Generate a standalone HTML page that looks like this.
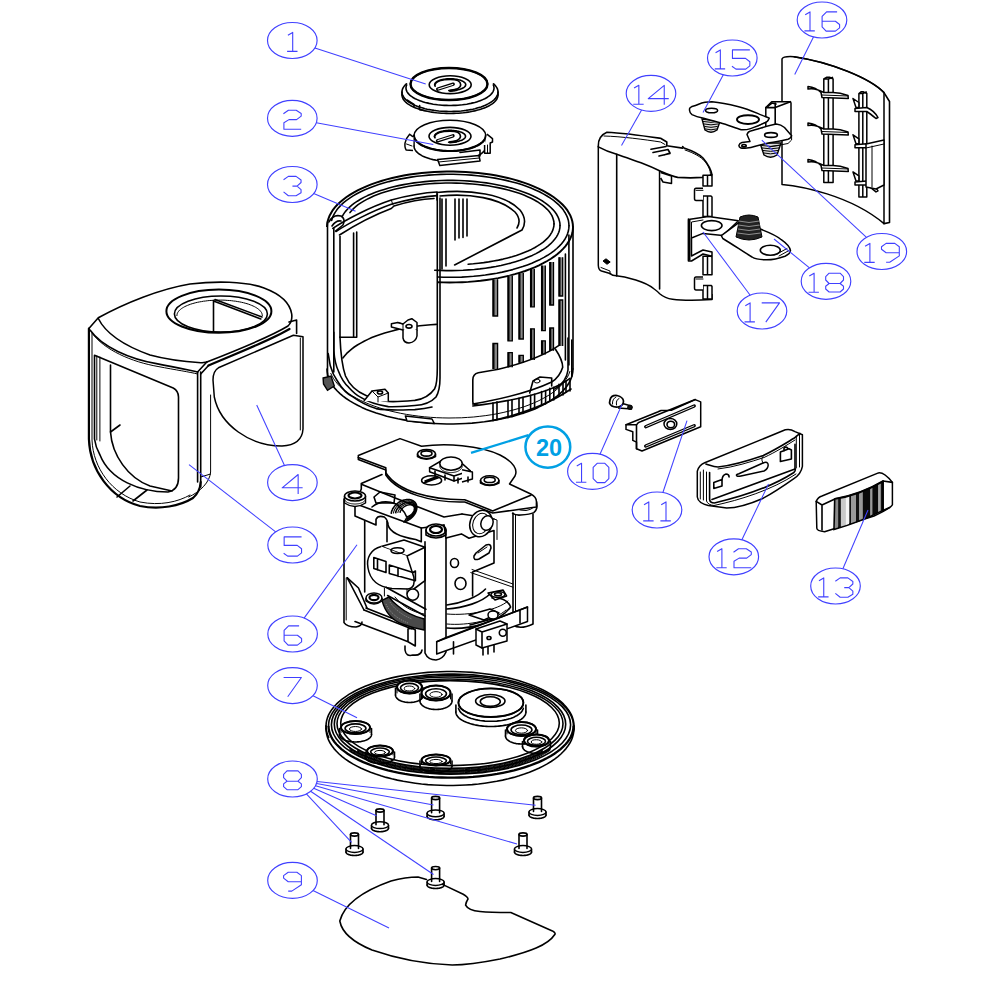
<!DOCTYPE html>
<html><head><meta charset="utf-8"><style>
html,body{margin:0;padding:0;background:#fff;}
svg{display:block}
.b{fill:none;stroke:#4040ff;stroke-width:1.15}
.bt{fill:none;stroke:#4040ff;stroke-width:1.1;stroke-linejoin:round}
.bl{fill:none;stroke:#4040ff;stroke-width:1.05}
.k{fill:none;stroke:#000;stroke-width:1.6;stroke-linejoin:round;stroke-linecap:round}
.kt{fill:none;stroke:#000;stroke-width:1.0;stroke-linejoin:round;stroke-linecap:round}
.kb{fill:none;stroke:#000;stroke-width:2.2;stroke-linejoin:round;stroke-linecap:round}
.w{fill:#fff;stroke:#000;stroke-width:1.5;stroke-linejoin:round}
</style></head><body>
<svg width="982" height="982" viewBox="0 0 982 982">
<g id="parts"><path d="M327.0,227.0 L327.2,224.1 L327.7,221.3 L328.5,218.5 L329.6,215.6 L331.1,212.9 L332.8,210.1 L334.9,207.4 L337.3,204.8 L340.0,202.2 L343.0,199.7 L346.2,197.2 L349.8,194.8 L353.6,192.6 L357.6,190.4 L361.9,188.3 L366.4,186.3 L371.2,184.4 L376.2,182.6 L381.3,181.0 L386.7,179.4 L392.2,178.0 L397.9,176.7 L403.7,175.6 L409.6,174.6 L415.6,173.7 L421.7,173.0 L427.9,172.4 L434.2,172.0 L440.5,171.7 L446.8,171.5 L453.2,171.5 L459.5,171.7 L465.8,172.0 L472.1,172.4 L478.3,173.0 L484.4,173.7 L490.4,174.6 L496.3,175.6 L502.1,176.7 L507.8,178.0 L513.3,179.4 L518.7,181.0 L523.8,182.6 L528.8,184.4 L533.6,186.3 L538.1,188.3 L542.4,190.4 L546.4,192.6 L550.2,194.8 L553.8,197.2 L557.0,199.7 L560.0,202.2 L562.7,204.8 L565.1,207.4 L567.2,210.1 L568.9,212.9 L570.4,215.6 L571.5,218.5 L572.3,221.3 L572.8,224.1 L573.0,227.0" fill="none" stroke="#000" stroke-width="2"/>
<path d="M331.7,220.4 L332.4,217.8 L333.6,215.2 L335.0,212.6 L336.7,210.1 L338.7,207.6 L341.0,205.1 L343.6,202.7 L346.5,200.4 L349.7,198.1 L353.1,195.9 L356.8,193.8 L360.7,191.7 L364.9,189.8 L369.3,188.0 L373.9,186.2 L378.7,184.6 L383.7,183.0 L388.9,181.6 L394.2,180.3 L399.7,179.1 L405.3,178.1 L411.0,177.1 L416.9,176.3 L422.8,175.7 L428.8,175.1 L434.8,174.7 L440.9,174.4 L447.0,174.3 L453.2,174.3 L459.3,174.5 L465.4,174.7 L471.4,175.1 L477.4,175.7 L483.3,176.4 L489.2,177.2 L494.9,178.1 L500.5,179.2 L506.0,180.4 L511.3,181.7 L516.5,183.1 L521.5,184.6 L526.3,186.3 L530.9,188.0 L535.3,189.9 L539.4,191.8 L543.3,193.9 L547.0,196.0 L550.4,198.2 L553.6,200.4 L556.5,202.8 L559.1,205.2 L561.4,207.6 L563.4,210.1 L565.1,212.7 L566.5,215.3 L567.6,217.9 L568.4,220.5 L568.8,223.2 L569.0,225.8" class="k"/>
<path d="M342.4,216.1 L343.7,213.9 L345.3,211.6 L347.2,209.5 L349.3,207.3 L351.8,205.2 L354.4,203.2 L357.4,201.2 L360.5,199.3 L363.9,197.4 L367.6,195.6 L371.4,193.9 L375.5,192.3 L379.8,190.8 L384.2,189.4 L388.8,188.0 L393.6,186.8 L398.5,185.6 L403.6,184.6 L408.8,183.7 L414.1,182.9 L419.5,182.2 L425.0,181.6 L430.5,181.1 L436.1,180.8 L441.7,180.5 L447.4,180.4 L453.0,180.4 L458.7,180.5 L464.3,180.8 L469.9,181.1 L475.4,181.6 L480.9,182.2 L486.3,182.9 L491.6,183.7 L496.8,184.7 L501.8,185.7 L506.7,186.9 L511.5,188.1 L516.1,189.5 L520.6,190.9 L524.8,192.4 L528.8,194.1 L532.7,195.8 L536.3,197.5 L539.7,199.4 L542.9,201.3 L545.8,203.3 L548.4,205.4 L550.8,207.5 L552.9,209.6 L554.8,211.8 L556.4,214.0 L557.7,216.3 L558.7,218.6 L559.4,220.9 L559.9,223.2 L560.0,225.5" class="k"/>
<path d="M350.0,212.6 L351.7,210.6 L353.5,208.6 L355.7,206.7 L358.1,204.7 L360.8,202.9 L363.7,201.1 L366.8,199.4 L370.2,197.7 L373.7,196.1 L377.5,194.6 L381.5,193.1 L385.7,191.8 L390.0,190.5 L394.5,189.3 L399.1,188.2 L403.9,187.2 L408.8,186.3 L413.9,185.5 L419.0,184.9 L424.2,184.3 L429.5,183.8 L434.8,183.4 L440.2,183.2 L445.6,183.0 L451.0,183.0 L456.4,183.1 L461.8,183.3 L467.1,183.6 L472.5,184.0 L477.7,184.5 L482.9,185.1 L488.0,185.8 L493.0,186.7 L497.8,187.6 L502.6,188.6 L507.2,189.7 L511.6,190.9 L515.9,192.3 L520.0,193.6 L523.9,195.1 L527.6,196.7 L531.1,198.3 L534.4,200.0 L537.4,201.7 L540.2,203.6 L542.8,205.4 L545.1,207.4 L547.2,209.3 L549.0,211.3 L550.5,213.4 L551.8,215.4 L552.7,217.5 L553.4,219.7 L553.9,221.8 L554.0,223.9" class="k"/>
<path d="M573.0,227.0 L572.8,229.8 L572.4,232.6 L571.6,235.4 L570.5,238.2 L569.1,240.9 L567.3,243.6 L565.3,246.3 L563.0,248.9 L560.4,251.5 L557.5,254.0 L554.3,256.4 L550.9,258.8 L547.2,261.0 L543.2,263.2 L539.0,265.3 L534.6,267.3 L530.0,269.2 L525.1,271.0 L520.1,272.6 L514.8,274.2 L509.5,275.6 L503.9,276.9 L498.2,278.1 L492.4,279.1 L486.5,280.0 L480.5,280.8 L474.4,281.4 L468.3,281.9 L462.1,282.2 L455.9,282.4 L449.6,282.5 L443.4,282.4 L437.1,282.2" fill="none" stroke="#000" stroke-width="1.9"/>
<path d="M569.0,225.8 L568.8,228.4 L568.4,231.0 L567.6,233.6 L566.6,236.2 L565.2,238.7 L563.5,241.2 L561.6,243.7 L559.3,246.1 L556.8,248.5 L554.0,250.8 L550.9,253.1 L547.6,255.3 L544.0,257.4 L540.2,259.4 L536.1,261.3 L531.8,263.2 L527.4,264.9 L522.7,266.6 L517.8,268.1 L512.7,269.6 L507.5,270.9 L502.2,272.1 L496.7,273.2 L491.1,274.1 L485.3,275.0 L479.5,275.7 L473.6,276.3 L467.7,276.7 L461.7,277.1 L455.7,277.2 L449.6,277.3 L443.6,277.2 L437.6,277.0" class="k"/>
<path d="M560.0,225.5 L559.9,227.8 L559.4,230.2 L558.7,232.5 L557.6,234.8 L556.3,237.1 L554.7,239.3 L552.8,241.5 L550.7,243.7 L548.2,245.8 L545.6,247.8 L542.6,249.8 L539.4,251.8 L536.0,253.6 L532.3,255.4 L528.4,257.1 L524.3,258.8 L520.0,260.3 L515.5,261.7 L510.8,263.1 L506.0,264.3 L501.0,265.5 L495.9,266.5 L490.7,267.4 L485.3,268.2 L479.9,268.9 L474.3,269.5 L468.8,269.9 L463.1,270.3 L457.4,270.5 L451.7,270.6 L446.0,270.6 L440.4,270.4 L434.7,270.2" class="k"/>
<path d="M554.0,223.9 L553.9,226.0 L553.4,228.1 L552.8,230.2 L551.8,232.3 L550.5,234.4 L549.0,236.4 L547.3,238.4 L545.2,240.3 L542.9,242.3 L540.4,244.1 L537.6,245.9 L534.6,247.7 L531.4,249.4 L527.9,251.0 L524.2,252.5 L520.4,254.0 L516.3,255.4 L512.1,256.7 L507.7,257.9 L503.2,259.1 L498.5,260.1 L493.6,261.0 L488.7,261.9 L483.7,262.6 L478.5,263.2 L473.3,263.8 L468.1,264.2" class="k"/>
<path d="M437,192.5 C470,189 505,194 520,210 Q528,220 522,230 L454.6,265" class="k"/>
<path d="M440,196 C470,193 500,198 515,212 Q522,220 517,228" class="k"/>
<path d="M442,199V269M446,199V266M455,199V240M459,199V238M463,199V237.5M467,199V236" class="k"/>
<path d="M437,192.5V200" class="k"/>
<path d="M332.8,228.4C345,220 370,207 391.3,200C410,195 425,192.5 437,192" class="k"/>
<path d="M336,231.5C348,223.5 372,211 392,204C410,199 424,196.5 437,195.6" class="k"/>
<path d="M339.5,235C352,227 374,215 391.3,208.5L394,206C410,201 422,199 434,198.5" class="k"/>
<path d="M391.3,200L393,205" class="kt"/>
<path d="M329,222Q333,214 341,216Q346,219 343,225L335.5,231" class="k"/>
<path d="M332,226Q336,220 341,221" class="k"/>
<path d="M327.5,222V376M333.8,228V372" class="k"/>
<path d="M340,236V337.2" fill="none" stroke="#333" stroke-width="2"/>
<path d="M340,337.2H356.7V232M353.6,233V337" class="k"/>
<path d="M342.9,358.0 L344.7,355.7 L346.7,353.4 L349.0,351.3 L351.6,349.1 L354.3,347.0 L357.4,345.0 L360.7,343.1 L364.1,341.2 L367.9,339.4 L371.8,337.6 L375.9,336.0 L380.2,334.5 L384.7,333.0 L389.3,331.7 L394.1,330.4 L399.0,329.3 L404.1,328.2 L409.2,327.3 L414.5,326.5 L419.9,325.8 L425.3,325.2 L430.8,324.7 L436.4,324.4" class="k"/>
<path d="M340,337.3C340.5,350 342,366 345.5,376C349,384 355,391 366,395.4C375,399 382,401 388.3,401.5C398,402 408,401 414.8,400.4C424,399 431,394 434.7,388.7C437,384 437.3,376 437.3,368V194" class="k"/>
<path d="M333.8,332.2V350.5C334.5,360 336,366 338.4,371C341,378 344,383 348.6,387.2C352,391 356,395 360.8,397.4C368,402 378,405 388.3,406.6C398,407 408,406 414.8,405.5C424,405 432,401.4 436,397C439,392 440,385 440,378V198" class="k"/>
<path d="M328.2,353.6C329,358 329.5,362 330.3,365.8C332,372 334.5,377 337.4,381C342,389 347,394 353.7,397.4C360,402 368,406 376.1,408.6C390,411 402,410 414.8,409.6C422,409 428,408 432,407" class="k"/>
<path d="M573.0,369.0 L572.8,371.8 L572.3,374.7 L571.5,377.5 L570.4,380.3 L568.9,383.0 L567.2,385.7 L565.1,388.4 L562.7,391.0 L560.0,393.6 L557.0,396.1 L553.8,398.5 L550.2,400.9 L546.4,403.1 L542.4,405.3 L538.1,407.4 L533.6,409.4 L528.8,411.2 L523.8,413.0 L518.7,414.6 L513.3,416.2 L507.8,417.5 L502.1,418.8 L496.3,419.9 L490.4,420.9 L484.4,421.8 L478.3,422.5 L472.1,423.1 L465.8,423.5 L459.5,423.8 L453.2,424.0 L446.8,424.0 L440.5,423.8 L434.2,423.5 L427.9,423.1 L421.7,422.5 L415.6,421.8 L409.6,420.9 L403.7,419.9 L397.9,418.8 L392.2,417.5 L386.7,416.2 L381.3,414.6 L376.2,413.0 L371.2,411.2 L366.4,409.4 L361.9,407.4 L357.6,405.3 L353.6,403.1 L349.8,400.9 L346.2,398.5 L343.0,396.1 L340.0,393.6 L337.3,391.0 L334.9,388.4 L332.8,385.7 L331.1,383.0 L329.6,380.3 L328.5,377.5 L327.7,374.7 L327.2,371.8 L327.0,369.0" class="k"/>
<path d="M569.8,371.5 L568.8,374.3 L567.5,377.0 L565.8,379.6 L563.9,382.3 L561.6,384.9 L559.1,387.4 L556.2,389.9 L553.1,392.3 L549.7,394.6 L546.1,396.8 L542.1,399.0 L538.0,401.1 L533.6,403.0 L529.0,404.9 L524.2,406.7 L519.2,408.3 L514.0,409.8 L508.6,411.2 L503.1,412.5 L497.5,413.7 L491.7,414.7 L485.8,415.6 L479.8,416.3 L473.7,417.0 L467.6,417.4 L461.4,417.8 L455.2,417.9 L449.0,418.0 L442.8,417.9 L436.6,417.7 L430.4,417.3 L424.3,416.8 L418.3,416.1 L412.3,415.3 L406.5,414.4 L400.7,413.3 L395.1,412.1 L389.6,410.8 L384.3,409.4 L379.2,407.8 L374.2,406.1 L369.5,404.3 L365.0,402.4 L360.6,400.4 L356.6,398.3 L352.7,396.1 L349.2,393.9 L345.9,391.5 L342.8,389.1 L340.1,386.6 L337.6,384.0 L335.5,381.4 L333.6,378.8 L332.1,376.1 L330.8,373.4" class="kt"/>
<path d="M573,227V369M568.9,235V365" class="k"/>
<path d="M391.4,323.8L397.8,322.5L403,324L408,320L411.8,318.7L417,322.5V330L409,333L403,330L391.4,327Z" class="w"/>
<path d="M403,330V338Q404,343 409,343Q416,342 417,336V330" class="w"/>
<path d="M397.8,322.5L403,324V330" class="kt"/>
<ellipse cx="409" cy="326.3" rx="3" ry="1.8" class="k"/>
<path d="M363.9,401L372,391L385,389.2L388.3,393V401.5" class="w"/>
<path d="M372,391L378,397L388.3,393M378,397V402" class="kt"/>
<ellipse cx="380" cy="392.5" rx="2.6" ry="1.5" class="k"/>
<path d="M405.4,416L432,419L434.4,423.6L407,421Z" class="w"/>
<path d="M323.1,378L331,376L334.3,386L327.5,390.3L323.5,384Z" fill="#555" stroke="#000" stroke-width="1.4"/>
<path d="M493,279.3V316H497.6V279.3" fill="#888" stroke="#000" stroke-width="1.3"/>
<path d="M493.6,279.3V316" stroke="#000" stroke-width="1.8"/>
<path d="M508,275.7V340.8H512.3V275.7" fill="#888" stroke="#000" stroke-width="1.3"/>
<path d="M508.6,275.7V340.8" stroke="#000" stroke-width="1.8"/>
<path d="M519,273V339H523.3V273" fill="#888" stroke="#000" stroke-width="1.3"/>
<path d="M519.6,273V339" stroke="#000" stroke-width="1.8"/>
<path d="M530.6,269V306.8H534.3V269" fill="#888" stroke="#000" stroke-width="1.3"/>
<path d="M531.2,269V306.8" stroke="#000" stroke-width="1.8"/>
<path d="M541.6,265.6V330.7H545.3V265.6" fill="#888" stroke="#000" stroke-width="1.3"/>
<path d="M542.2,265.6V330.7" stroke="#000" stroke-width="1.8"/>
<path d="M549.8,262V305H553.5V262" fill="#888" stroke="#000" stroke-width="1.3"/>
<path d="M550.4,262V305" stroke="#000" stroke-width="1.8"/>
<path d="M559,257.3V296H562.7V257.3" fill="#888" stroke="#000" stroke-width="1.3"/>
<path d="M559.6,257.3V296" stroke="#000" stroke-width="1.8"/>
<path d="M493,369V343.5H497.6V369" fill="#888" stroke="#000" stroke-width="1.3"/>
<path d="M493.6,343.5V369" stroke="#000" stroke-width="1.8"/>
<path d="M508,367.3V352.7H512.3V367.3" fill="#888" stroke="#000" stroke-width="1.3"/>
<path d="M508.6,352.7V367.3" stroke="#000" stroke-width="1.8"/>
<path d="M519,362.8V355.4H523.3V362.8" fill="#888" stroke="#000" stroke-width="1.3"/>
<path d="M519.6,355.4V362.8" stroke="#000" stroke-width="1.8"/>
<path d="M530.6,360V328.8H534.3V360" fill="#888" stroke="#000" stroke-width="1.3"/>
<path d="M531.2,328.8V360" stroke="#000" stroke-width="1.8"/>
<path d="M541.6,354.5V340.8H545.3V354.5" fill="#888" stroke="#000" stroke-width="1.3"/>
<path d="M542.2,340.8V354.5" stroke="#000" stroke-width="1.8"/>
<path d="M549.8,350.8V328H553.5V350.8" fill="#888" stroke="#000" stroke-width="1.3"/>
<path d="M550.4,328V350.8" stroke="#000" stroke-width="1.8"/>
<path d="M559,346V300H562.7V346" fill="#888" stroke="#000" stroke-width="1.3"/>
<path d="M559.6,300V346" stroke="#000" stroke-width="1.8"/>
<path d="M565.4,254V320M565.4,314V360" class="k"/>
<path d="M559,345.3C545,355 520,364 498.5,369.2L478.3,372.8Q472.8,374 472.8,380V402Q473,405 478,405" class="k"/>
<path d="M555.3,349C560,356 562.7,362 562.7,367.3C560,376 555,380 551.7,382C535,390 515,396.7 472.8,404" class="k"/>
<path d="M568,338V370C567,378 563,384 555,389" class="k"/>
<path d="M571.8,340V376.5" class="k"/>
<path d="M472.8,406C520,400 555,390 570,378.3" class="k"/>
<path d="M493,420.5C530,412 555,400 571,389" class="k"/>
<path d="M493,402.9V420.5M497,401.9V419.5" class="k"/>
<path d="M508,400.7V417.8M512,399.7V416.8" class="k"/>
<path d="M519,398.4V414.4M523,397.4V413.4" class="k"/>
<path d="M530.6,395.2V410.0M534.6,394.2V409.0" class="k"/>
<path d="M541.6,391.5V405.0M545.6,390.5V404.0" class="k"/>
<path d="M549.8,388.4V400.9M553.8,387.4V399.9" class="k"/>
<path d="M559,384.4V396.0M563,383.4V395.0" class="k"/>
<path d="M566,381.1V392.0M570,380.1V391.0" class="k"/>
<path d="M529.7,393L533,381L540,377L551.7,378V386" class="k"/>
<ellipse cx="537" cy="381" rx="3" ry="2" class="kt"/>
<path d="M498.0,95.0 L497.9,96.0 L497.7,96.9 L497.4,97.8 L497.0,98.8 L496.4,99.7 L495.7,100.6 L494.9,101.5 L494.0,102.4 L492.9,103.3 L491.8,104.1 L490.5,104.9 L489.1,105.7 L487.6,106.5 L486.1,107.2 L484.4,107.9 L482.6,108.6 L480.7,109.2 L478.8,109.8 L476.8,110.3 L474.7,110.9 L472.6,111.3 L470.3,111.8 L468.1,112.1 L465.8,112.5 L463.4,112.8 L461.0,113.0 L458.6,113.2 L456.2,113.3 L453.7,113.4 L451.2,113.5 L448.8,113.5 L446.3,113.4 L443.8,113.3 L441.4,113.2 L439.0,113.0 L436.6,112.8 L434.2,112.5 L431.9,112.1 L429.7,111.8 L427.4,111.3 L425.3,110.9 L423.2,110.3 L421.2,109.8 L419.3,109.2 L417.4,108.6 L415.6,107.9 L413.9,107.2 L412.4,106.5 L410.9,105.7 L409.5,104.9 L408.2,104.1 L407.1,103.3 L406.0,102.4 L405.1,101.5 L404.3,100.6 L403.6,99.7 L403.0,98.8 L402.6,97.8 L402.3,96.9 L402.1,96.0 L402.0,95.0" class="k"/>
<path d="M493.5,83.8 L494.5,84.7 L495.4,85.6 L496.1,86.6 L496.8,87.6 L497.3,88.6 L497.6,89.6 L497.9,90.6 L498.0,91.6 L498.0,92.6 L497.8,93.7 L497.5,94.7 L497.1,95.7 L496.6,96.7 L495.9,97.6 L495.2,98.6 L494.3,99.6 L493.2,100.5 L492.1,101.4 L490.8,102.3 L489.4,103.1 L488.0,103.9 L486.4,104.7 L484.7,105.5 L482.9,106.2 L481.1,106.9 L479.1,107.5 L477.1,108.1 L475.0,108.7 L472.8,109.2 L470.6,109.6 L468.3,110.0 L466.0,110.4 L463.6,110.7 L461.2,111.0 L458.7,111.2 L456.2,111.3 L453.7,111.4 L451.3,111.5 L448.7,111.5 L446.3,111.4 L443.8,111.3 L441.3,111.2 L438.8,111.0 L436.4,110.7 L434.0,110.4 L431.7,110.0 L429.4,109.6 L427.2,109.2 L425.0,108.7 L422.9,108.1 L420.9,107.5 L418.9,106.9 L417.1,106.2 L415.3,105.5 L413.6,104.7 L412.0,103.9 L410.6,103.1 L409.2,102.3 L407.9,101.4 L406.8,100.5 L405.7,99.6 L404.8,98.6 L404.1,97.6 L403.4,96.7 L402.9,95.7 L402.5,94.7 L402.2,93.7 L402.0,92.6 L402.0,91.6 L402.1,90.6 L402.4,89.6 L402.7,88.6 L403.2,87.6 L403.9,86.6 L404.6,85.6 L405.5,84.7 L406.5,83.8" class="k"/>
<path d="M402,92V95M498,92V95" class="k"/>
<path d="M493.3,85.0 L493.7,85.9 L493.9,86.8 L494.0,87.7 L494.0,88.6 L493.8,89.5 L493.6,90.4 L493.2,91.3 L492.7,92.2 L492.1,93.1 L491.4,93.9 L490.6,94.8 L489.6,95.6 L488.6,96.4 L487.4,97.2 L486.1,98.0 L484.8,98.7 L483.3,99.4 L481.8,100.1 L480.2,100.7 L478.5,101.3 L476.7,101.9 L474.8,102.5 L472.9,102.9 L470.9,103.4 L468.9,103.8 L466.8,104.2 L464.6,104.5 L462.4,104.8 L460.2,105.0 L458.0,105.2 L455.7,105.4 L453.4,105.4 L451.1,105.5 L448.9,105.5 L446.6,105.4 L444.3,105.4 L442.0,105.2 L439.8,105.0 L437.6,104.8 L435.4,104.5 L433.2,104.2 L431.1,103.8 L429.1,103.4 L427.1,102.9 L425.2,102.5 L423.3,101.9 L421.5,101.3 L419.8,100.7 L418.2,100.1 L416.7,99.4 L415.2,98.7 L413.9,98.0 L412.6,97.2 L411.4,96.4 L410.4,95.6 L409.4,94.8 L408.6,93.9 L407.9,93.1 L407.3,92.2 L406.8,91.3 L406.4,90.4 L406.2,89.5 L406.0,88.6 L406.0,87.7 L406.1,86.8 L406.3,85.9 L406.7,85.0" class="k"/>
<ellipse cx="449" cy="84" rx="38.5" ry="16" class="w"/>
<ellipse cx="449" cy="84" rx="38.5" ry="16" fill="none" stroke="#000" stroke-width="2.4"/>
<path d="M407,100L414,104.5V106.5M419.6,105.5V109.6L424,110.5" class="k"/>
<ellipse cx="450.2" cy="84.7" rx="21" ry="8.9" class="k"/>
<path d="M435.2,86.2 L435.0,85.9 L434.9,85.6 L434.8,85.3 L434.7,85.0 L434.7,84.7 L434.7,84.4 L434.8,84.1 L434.9,83.8 L435.0,83.5 L435.2,83.2 L435.4,82.9 L435.7,82.6 L436.0,82.3 L436.4,82.0 L436.8,81.8 L437.2,81.5 L437.6,81.2 L438.1,81.0 L438.6,80.8 L439.2,80.5 L439.8,80.3 L440.4,80.1 L441.0,79.9 L441.7,79.8 L442.4,79.6 L443.1,79.5 L443.8,79.3 L444.6,79.2 L445.3,79.1 L446.1,79.0 L446.9,78.9 L447.7,78.9 L448.5,78.8 L449.3,78.8 L450.1,78.8 L450.9,78.8 L451.7,78.8 L452.5,78.9 L453.3,78.9 L454.1,79.0 L454.9,79.1 L455.6,79.2 L456.4,79.3 L457.1,79.4 L457.8,79.6 L458.5,79.7 L459.2,79.9 L459.9,80.1 L460.5,80.3 L461.1,80.5 L461.6,80.7 L462.2,80.9 L462.7,81.2 L463.1,81.4 L463.5,81.7 L463.9,82.0 L464.3,82.2 L464.6,82.5 L464.9,82.8 L465.1,83.1 L465.3,83.4 L465.5,83.7 L465.6,84.0 L465.7,84.3 L465.7,84.6 L465.7,84.9 L465.6,85.2 L465.5,85.6 L465.4,85.9 L465.2,86.2 L465.0,86.5 L464.7,86.7 L464.4,87.0 L464.1,87.3 L463.7,87.6 L463.3,87.8 L462.9,88.1 L462.4,88.3 L461.9,88.6 L461.3,88.8 L460.7,89.0 L460.1,89.2 L459.5,89.4 L458.8,89.6 L458.2,89.8 L457.4,89.9 L456.7,90.1 L456.0,90.2 L455.2,90.3 L454.5,90.4 L453.7,90.5 L452.9,90.5 L452.1,90.6 L451.3,90.6 L450.5,90.6 L449.7,90.6 L448.8,90.6" class="k"/>
<path d="M434.7,85.0C436.2,80.2 444.2,79.5 450.2,79.5C458.2,79.5 460.7,81.7 460.7,84.7C460.7,87.7 456.2,90.2 450.2,90.7" class="k"/>
<path d="M437.7,89.2L453.2,84.2" stroke="#000" stroke-width="3.4" stroke-linecap="round"/>
<path d="M438.2,89.0L452.7,84.4" stroke="#fff" stroke-width="1.1" stroke-linecap="round"/>
<path d="M450.2,90.7L456.2,89.9" stroke="#000" stroke-width="2.6" stroke-linecap="round"/>
<path d="M486.0,146.0 L486.0,146.8 L485.8,147.6 L485.6,148.4 L485.2,149.2 L484.8,149.9 L484.3,150.7 L483.7,151.4 L483.0,152.2 L482.2,152.9 L481.3,153.6 L480.4,154.3 L479.3,154.9 L478.2,155.6 L477.0,156.2 L475.8,156.7 L474.5,157.3 L473.1,157.8 L471.6,158.3 L470.1,158.8 L468.5,159.2 L466.9,159.6 L465.3,159.9 L463.6,160.3 L461.8,160.5 L460.1,160.8 L458.3,161.0 L456.5,161.2 L454.6,161.3 L452.8,161.4 L450.9,161.4 L449.1,161.4 L447.2,161.4 L445.4,161.3 L443.5,161.2 L441.7,161.0 L439.9,160.8 L438.2,160.5 L436.4,160.3 L434.7,159.9 L433.1,159.6 L431.5,159.2 L429.9,158.8 L428.4,158.3 L426.9,157.8 L425.5,157.3 L424.2,156.7 L423.0,156.2 L421.8,155.6 L420.7,154.9 L419.6,154.3 L418.7,153.6 L417.8,152.9 L417.0,152.2 L416.3,151.4 L415.7,150.7 L415.2,149.9 L414.8,149.2 L414.4,148.4 L414.2,147.6 L414.0,146.8 L414.0,146.0" class="k"/>
<path d="M414,135.6V146M486,135.6V146" class="k"/>
<ellipse cx="449.9" cy="135.6" rx="35.9" ry="15.4" class="w"/>
<path d="M485.8,135.6 L485.8,136.4 L485.6,137.2 L485.4,138.0 L485.0,138.8 L484.6,139.5 L484.1,140.3 L483.5,141.0 L482.8,141.8 L482.0,142.5 L481.1,143.2 L480.2,143.9 L479.2,144.5 L478.0,145.2 L476.9,145.8 L475.6,146.3 L474.3,146.9 L472.9,147.4 L471.4,147.9 L469.9,148.4 L468.4,148.8 L466.8,149.2 L465.1,149.5 L463.4,149.9 L461.7,150.1 L459.9,150.4 L458.1,150.6 L456.3,150.8 L454.5,150.9 L452.7,151.0 L450.8,151.0 L449.0,151.0 L447.1,151.0 L445.3,150.9 L443.5,150.8 L441.7,150.6 L439.9,150.4 L438.1,150.1 L436.4,149.9 L434.7,149.5 L433.0,149.2 L431.4,148.8 L429.9,148.4 L428.4,147.9 L426.9,147.4 L425.5,146.9 L424.2,146.3 L422.9,145.8 L421.8,145.2 L420.6,144.5 L419.6,143.9 L418.7,143.2 L417.8,142.5 L417.0,141.8 L416.3,141.0 L415.7,140.3 L415.2,139.5 L414.8,138.8 L414.4,138.0 L414.2,137.2 L414.0,136.4 L414.0,135.6" class="kb"/>
<ellipse cx="450" cy="136.3" rx="21" ry="8.9" class="k"/>
<path d="M435.0,137.8 L434.8,137.5 L434.7,137.2 L434.6,136.9 L434.5,136.6 L434.5,136.3 L434.5,136.0 L434.6,135.7 L434.7,135.4 L434.8,135.1 L435.0,134.8 L435.2,134.5 L435.5,134.2 L435.8,133.9 L436.2,133.6 L436.6,133.4 L437.0,133.1 L437.4,132.8 L437.9,132.6 L438.4,132.4 L439.0,132.1 L439.6,131.9 L440.2,131.7 L440.8,131.5 L441.5,131.4 L442.2,131.2 L442.9,131.1 L443.6,130.9 L444.4,130.8 L445.1,130.7 L445.9,130.6 L446.7,130.5 L447.5,130.5 L448.3,130.4 L449.1,130.4 L449.9,130.4 L450.7,130.4 L451.5,130.4 L452.3,130.5 L453.1,130.5 L453.9,130.6 L454.7,130.7 L455.4,130.8 L456.2,130.9 L456.9,131.0 L457.6,131.2 L458.3,131.3 L459.0,131.5 L459.7,131.7 L460.3,131.9 L460.9,132.1 L461.4,132.3 L462.0,132.5 L462.5,132.8 L462.9,133.0 L463.3,133.3 L463.7,133.6 L464.1,133.8 L464.4,134.1 L464.7,134.4 L464.9,134.7 L465.1,135.0 L465.3,135.3 L465.4,135.6 L465.5,135.9 L465.5,136.2 L465.5,136.5 L465.4,136.8 L465.3,137.2 L465.2,137.5 L465.0,137.8 L464.8,138.1 L464.5,138.3 L464.2,138.6 L463.9,138.9 L463.5,139.2 L463.1,139.4 L462.7,139.7 L462.2,139.9 L461.7,140.2 L461.1,140.4 L460.5,140.6 L459.9,140.8 L459.3,141.0 L458.6,141.2 L458.0,141.4 L457.2,141.5 L456.5,141.7 L455.8,141.8 L455.0,141.9 L454.3,142.0 L453.5,142.1 L452.7,142.1 L451.9,142.2 L451.1,142.2 L450.3,142.2 L449.5,142.2 L448.6,142.2" class="k"/>
<path d="M434.5,136.60000000000002C436,131.8 444,131.10000000000002 450,131.10000000000002C458,131.10000000000002 460.5,133.3 460.5,136.3C460.5,139.3 456,141.8 450,142.3" class="k"/>
<path d="M437.5,140.8L453,135.8" stroke="#000" stroke-width="3.4" stroke-linecap="round"/>
<path d="M438,140.60000000000002L452.5,136.0" stroke="#fff" stroke-width="1.1" stroke-linecap="round"/>
<path d="M450,142.3L456,141.5" stroke="#000" stroke-width="2.6" stroke-linecap="round"/>
<path d="M413.5,137Q409.5,134 409.6,134.2Q406,138 405,143.2Q404.5,148 406.2,149.9L413,150.4" class="w"/>
<path d="M406.5,144L412,146" class="kt"/>
<path d="M486.9,134.2L492.5,138.7V142L490.2,143V153.2H484.6V145" class="w"/>
<path d="M487.5,145V153" class="kt"/>
<path d="M437.6,159.4L479,155.6L480.1,161L439.8,165.6Z" class="w"/>
<path d="M438.5,162L479.5,158" class="kt"/>
<path d="M460,152.5L480,150V156" class="k"/>
<path d="M88.9,328.5L98.3,317.8C125,303 160,289 190,284C215,281 245,281 264,288C280,294 290,303 291.7,314C292.5,320 291,323 288,326C270,337 240,349 206.8,362" class="k"/>
<path d="M289.5,329C271,340 240,352 208.5,365.5" class="kb"/>
<path d="M289,322L296.6,320V333.5" class="k"/>
<path d="M98.3,318.5C106,334 125,346 150,355C172,361 190,362 202.2,362.8L206.8,362" class="k"/>
<path d="M90,330C102,347 130,359 156.4,363.6C175,367 188,370 197.6,372" class="k"/>
<path d="M92,333C104,350 132,362 158,366.5C176,370 190,372 197.6,374" class="kt"/>
<path d="M197.6,372L206.8,362M200.7,374L208.5,365.5" class="k"/>
<path d="M197.6,372V482M200.7,372V487" class="k"/>
<path d="M88.9,328.5V439C90,470 110,498 140,506C160,510 180,506 193,498Q200,492 200.7,482" class="kb"/>
<path d="M92,333V440C93,468 112,494 140,502C160,506 178,502 190,495" class="kt"/>
<path d="M94.5,355.2L173.2,388Q178.5,391 178.5,397V478Q178.5,490 168,492C140,492 110,480 100,455Q95.5,447 94.5,439Z" class="k"/>
<path d="M96.8,356V440M99.9,357V441" class="kt"/>
<path d="M110.5,365V432C112,455 128,478 150,486L172,491" class="k"/>
<path d="M110.5,432L120,425" class="k"/>
<path d="M117,497L130,486M133,501L147,490" class="k"/>
<ellipse cx="218.9" cy="311.2" rx="52.5" ry="21.6" fill="none" stroke="#000" stroke-width="2"/>
<ellipse cx="220.9" cy="314" rx="46.5" ry="18" class="k"/>
<path d="M176.9,315.6 L177.0,314.8 L177.1,314.0 L177.4,313.2 L177.8,312.4 L178.3,311.7 L178.9,310.9 L179.6,310.1 L180.5,309.4 L181.4,308.7 L182.4,308.0 L183.6,307.3 L184.8,306.6 L186.1,306.0 L187.5,305.4 L189.0,304.8 L190.6,304.2 L192.2,303.7 L194.0,303.2 L195.8,302.7 L197.6,302.3 L199.5,301.9 L201.5,301.6 L203.5,301.2 L205.6,301.0 L207.7,300.7 L209.8,300.5 L211.9,300.4 L214.1,300.2 L216.3,300.1 L218.5,300.1 L220.7,300.1 L222.9,300.1 L225.1,300.2 L227.3,300.4 L229.4,300.5 L231.5,300.7 L233.6,301.0 L235.7,301.2 L237.7,301.6 L239.7,301.9 L241.6,302.3 L243.4,302.7 L245.2,303.2 L247.0,303.7 L248.6,304.2 L250.2,304.8 L251.7,305.4 L253.1,306.0 L254.4,306.6 L255.6,307.3 L256.8,308.0 L257.8,308.7 L258.7,309.4 L259.6,310.1 L260.3,310.9 L260.9,311.7 L261.4,312.4 L261.8,313.2 L262.1,314.0 L262.2,314.8 L262.3,315.6" class="kt"/>
<path d="M213.5,300.5V332M213.5,301L260.8,318.9M215,299.5L262,317" class="k"/>
<path d="M210.6,395V472C210,482 200,492 188.6,497" class="kt"/>
<path d="M200.7,477L210.6,474" class="kt"/>
<path d="M213,380Q213,371 218.4,367.8L293.4,335.2L303,336.8V429Q302,445 282,446C250,446 220,425 214.3,397Z" class="w"/>
<path d="M300.3,338V430" class="kt"/>
<path d="M344,499V622.6Q347,627 356,627Q362,626 362,622" class="k"/>
<path d="M346.2,578V620" class="kt"/>
<path d="M364.7,521V592" class="k"/>
<path d="M387,521.5V541.7" class="k"/>
<path d="M425,541.7V653Q428,660 436,660Q443,659 446,652V538" class="k"/>
<path d="M513,513V625Q520,630 533,624V514" class="k"/>
<path d="M512.6,513.4Q516,515.5 520.7,515C528,514.5 531,514 533.8,512.6Q537,510 537,506Q537,500 534,497.5" class="k"/>
<path d="M515.5,508Q520,511 526,510.5Q531,510 534,507" class="kt"/>
<path d="M515.5,515V622" class="kt"/>
<path d="M358.3,455.5L400,438.6L421.5,446.3C445,443 480,445 500,455C514,462 518,470 515,476L509.5,484L530.8,494Q537,497 536.4,503V507L492.7,513L464.7,502C432,503 398,493 385.8,475V470L358.3,459.5Z" class="w"/>
<path d="M358.3,457.5L385.8,467.7V472.8M385.8,472.8C398,492 432,500 464.7,499.7L492.7,510.9L530.8,495.2" class="k"/>
<ellipse cx="426.5" cy="454" rx="9" ry="4.6" class="w"/>
<ellipse cx="426.5" cy="453.5" rx="5.5" ry="2.6" class="k"/>
<path d="M417.5,454V456.5Q426.5,462 435.5,456.5V454" class="k"/>
<ellipse cx="489.7" cy="480.4" rx="9.2" ry="4.6" class="w"/>
<ellipse cx="489.7" cy="479.9" rx="5.5" ry="2.6" class="k"/>
<path d="M480.5,480.4V483Q489.7,488 498.9,483V480.4" class="k"/>
<ellipse cx="431.6" cy="480.4" rx="10" ry="4.6" class="w"/>
<path d="M424,483L439,477.5M425,481L437,476.5" class="k"/>
<path d="M429.6,467.7L441.8,460.5L462.2,463.6L470.3,470.7V475.8L454,481L429.6,471.8Z" class="w"/>
<path d="M429.6,467.7L454,476L470.3,470.7M454,476V481" class="k"/>
<path d="M462,469.7L472.4,472V479L462,482" class="w"/>
<ellipse cx="451" cy="463.6" rx="11.2" ry="6.6" class="w"/>
<path d="M462.2,466.0 L462.2,466.3 L462.1,466.7 L462.1,467.0 L462.0,467.4 L461.8,467.7 L461.7,468.0 L461.5,468.3 L461.3,468.6 L461.0,469.0 L460.7,469.3 L460.5,469.5 L460.1,469.8 L459.8,470.1 L459.4,470.4 L459.0,470.6 L458.6,470.8 L458.2,471.1 L457.7,471.3 L457.3,471.5 L456.8,471.7 L456.3,471.8 L455.7,472.0 L455.2,472.1 L454.7,472.2 L454.1,472.3 L453.6,472.4 L453.0,472.5 L452.4,472.5 L451.9,472.6 L451.3,472.6 L450.7,472.6 L450.1,472.6 L449.6,472.5 L449.0,472.5 L448.4,472.4 L447.9,472.3 L447.3,472.2 L446.8,472.1 L446.3,472.0 L445.7,471.8 L445.2,471.7 L444.7,471.5 L444.3,471.3 L443.8,471.1 L443.4,470.8 L443.0,470.6 L442.6,470.4 L442.2,470.1 L441.9,469.8 L441.5,469.5 L441.3,469.3 L441.0,469.0 L440.7,468.6 L440.5,468.3 L440.3,468.0 L440.2,467.7 L440.0,467.4 L439.9,467.0 L439.9,466.7 L439.8,466.3 L439.8,466.0" class="kt"/>
<path d="M435,471V476M445,475V480M458,478V483M468,477V482" class="k"/>
<path d="M355,503.6L361.3,489V483.4L382,474.5" class="k"/>
<path d="M362,484.6L397.7,499L444,517L462,514" class="k"/>
<path d="M374,497L380,492L395,495L394,503L376,503Z" class="k"/>
<path d="M355,503.6V516L376,525V519.3Q378,515 384.3,517Q388,520 388,525C390,532 400,537 415.7,539.5L421.3,541.7V528" class="k"/>
<path d="M355,503.6L421.3,528L444,525" class="k"/>
<path d="M372,507C378,502 386,500 396,504C400,507 405,512 406.7,517" class="k"/>
<path d="M-12.1,-5.0 L-11.7,-5.4 L-11.3,-5.9 L-10.9,-6.3 L-10.4,-6.7 L-9.9,-7.1 L-9.4,-7.4 L-8.9,-7.7 L-8.3,-8.1 L-7.7,-8.4 L-7.1,-8.6 L-6.4,-8.9 L-5.8,-9.1 L-5.1,-9.3 L-4.4,-9.5 L-3.7,-9.6 L-3.0,-9.8 L-2.3,-9.9 L-1.6,-9.9 L-0.9,-10.0 L-0.2,-10.0 L0.6,-10.0 L1.3,-10.0 L2.0,-9.9 L2.7,-9.8 L3.4,-9.7 L4.1,-9.6 L4.8,-9.4 L5.5,-9.2 L6.1,-9.0 L6.8,-8.7 L7.4,-8.5 L8.0,-8.2 L8.6,-7.9 L9.2,-7.6 L9.7,-7.2 L10.2,-6.8 L10.7,-6.5 L11.1,-6.1 L11.6,-5.6 L12.0,-5.2 L12.3,-4.7 L12.6,-4.3 L12.9,-3.8 L13.2,-3.3 L13.4,-2.8 L13.6,-2.3 L13.8,-1.8 L13.9,-1.3 L14.0,-0.8 L14.0,-0.3 L14.0,0.2 L14.0,0.7 L13.9,1.3 L13.8,1.8 L13.6,2.3 L13.4,2.8 L13.2,3.3 L13.0,3.8 L12.7,4.2 L12.4,4.7 L12.0,5.1 L11.6,5.6 L11.2,6.0 L10.7,6.4 L10.3,6.8 L9.8,7.2 L9.2,7.5 L8.7,7.9 L8.1,8.2 L7.5,8.5 L6.9,8.7 L6.2,9.0 L5.6,9.2 L4.9,9.4 L4.2,9.5 L3.5,9.7 L2.8,9.8 L2.1,9.9 L1.4,10.0 L0.6,10.0 L-0.1,10.0 L-0.8,10.0 L-1.5,9.9 L-2.2,9.9 L-3.0,9.8 L-3.7,9.7 L-4.4,9.5 L-5.0,9.3 L-5.7,9.1 L-6.4,8.9 L-7.0,8.7" transform="translate(404.0 511) rotate(-35)" fill="none" stroke="#000" stroke-width="1.6"/>
<path d="M-10.8,-4.4 L-10.5,-4.8 L-10.1,-5.2 L-9.7,-5.5 L-9.3,-5.9 L-8.9,-6.2 L-8.4,-6.5 L-7.9,-6.8 L-7.4,-7.1 L-6.9,-7.4 L-6.3,-7.6 L-5.7,-7.8 L-5.2,-8.0 L-4.6,-8.2 L-4.0,-8.3 L-3.3,-8.5 L-2.7,-8.6 L-2.1,-8.7 L-1.4,-8.7 L-0.8,-8.8 L-0.1,-8.8 L0.5,-8.8 L1.1,-8.8 L1.8,-8.7 L2.4,-8.6 L3.1,-8.5 L3.7,-8.4 L4.3,-8.3 L4.9,-8.1 L5.5,-7.9 L6.1,-7.7 L6.6,-7.5 L7.2,-7.2 L7.7,-6.9 L8.2,-6.7 L8.7,-6.3 L9.1,-6.0 L9.5,-5.7 L9.9,-5.3 L10.3,-5.0 L10.7,-4.6 L11.0,-4.2 L11.3,-3.8 L11.6,-3.4 L11.8,-2.9 L12.0,-2.5 L12.2,-2.1 L12.3,-1.6 L12.4,-1.2 L12.5,-0.7 L12.5,-0.3 L12.5,0.2 L12.5,0.7 L12.4,1.1 L12.3,1.6 L12.2,2.0 L12.0,2.4 L11.8,2.9 L11.6,3.3 L11.3,3.7 L11.0,4.1 L10.7,4.5 L10.4,4.9 L10.0,5.3 L9.6,5.6 L9.2,6.0 L8.7,6.3 L8.2,6.6 L7.7,6.9 L7.2,7.2 L6.7,7.4 L6.1,7.7 L5.6,7.9 L5.0,8.1 L4.4,8.2 L3.8,8.4 L3.1,8.5 L2.5,8.6 L1.9,8.7 L1.2,8.8 L0.6,8.8 L-0.1,8.8 L-0.7,8.8 L-1.4,8.7 L-2.0,8.7 L-2.6,8.6 L-3.3,8.5 L-3.9,8.4 L-4.5,8.2 L-5.1,8.0 L-5.7,7.8 L-6.2,7.6" transform="translate(404.8 511) rotate(-35)" fill="none" stroke="#000" stroke-width="1.0"/>
<path d="M-9.5,-3.8 L-9.2,-4.1 L-8.9,-4.5 L-8.6,-4.8 L-8.2,-5.1 L-7.8,-5.4 L-7.4,-5.6 L-7.0,-5.9 L-6.5,-6.1 L-6.0,-6.4 L-5.6,-6.6 L-5.1,-6.7 L-4.5,-6.9 L-4.0,-7.1 L-3.5,-7.2 L-2.9,-7.3 L-2.4,-7.4 L-1.8,-7.5 L-1.3,-7.5 L-0.7,-7.6 L-0.1,-7.6 L0.4,-7.6 L1.0,-7.6 L1.6,-7.5 L2.1,-7.5 L2.7,-7.4 L3.2,-7.3 L3.8,-7.1 L4.3,-7.0 L4.8,-6.8 L5.3,-6.6 L5.8,-6.4 L6.3,-6.2 L6.8,-6.0 L7.2,-5.7 L7.6,-5.5 L8.0,-5.2 L8.4,-4.9 L8.8,-4.6 L9.1,-4.3 L9.4,-4.0 L9.7,-3.6 L9.9,-3.3 L10.2,-2.9 L10.4,-2.5 L10.5,-2.2 L10.7,-1.8 L10.8,-1.4 L10.9,-1.0 L11.0,-0.6 L11.0,-0.2 L11.0,0.2 L11.0,0.6 L10.9,1.0 L10.8,1.3 L10.7,1.7 L10.6,2.1 L10.4,2.5 L10.2,2.9 L10.0,3.2 L9.7,3.6 L9.4,3.9 L9.1,4.2 L8.8,4.6 L8.4,4.9 L8.1,5.2 L7.7,5.5 L7.2,5.7 L6.8,6.0 L6.4,6.2 L5.9,6.4 L5.4,6.6 L4.9,6.8 L4.4,7.0 L3.8,7.1 L3.3,7.2 L2.8,7.4 L2.2,7.4 L1.6,7.5 L1.1,7.6 L0.5,7.6 L-0.1,7.6 L-0.6,7.6 L-1.2,7.6 L-1.8,7.5 L-2.3,7.4 L-2.9,7.3 L-3.4,7.2 L-4.0,7.1 L-4.5,6.9 L-5.0,6.8 L-5.5,6.6" transform="translate(405.6 511) rotate(-35)" fill="none" stroke="#000" stroke-width="1.6"/>
<path d="M-8.2,-3.2 L-8.0,-3.5 L-7.7,-3.8 L-7.4,-4.0 L-7.1,-4.3 L-6.7,-4.5 L-6.4,-4.7 L-6.0,-5.0 L-5.6,-5.2 L-5.2,-5.3 L-4.8,-5.5 L-4.4,-5.7 L-3.9,-5.8 L-3.5,-6.0 L-3.0,-6.1 L-2.5,-6.2 L-2.1,-6.2 L-1.6,-6.3 L-1.1,-6.4 L-0.6,-6.4 L-0.1,-6.4 L0.4,-6.4 L0.9,-6.4 L1.4,-6.3 L1.8,-6.3 L2.3,-6.2 L2.8,-6.1 L3.3,-6.0 L3.7,-5.9 L4.2,-5.8 L4.6,-5.6 L5.0,-5.4 L5.4,-5.2 L5.8,-5.0 L6.2,-4.8 L6.6,-4.6 L6.9,-4.4 L7.3,-4.1 L7.6,-3.9 L7.8,-3.6 L8.1,-3.3 L8.4,-3.0 L8.6,-2.7 L8.8,-2.4 L9.0,-2.1 L9.1,-1.8 L9.2,-1.5 L9.3,-1.2 L9.4,-0.8 L9.5,-0.5 L9.5,-0.2 L9.5,0.1 L9.5,0.5 L9.4,0.8 L9.3,1.1 L9.2,1.5 L9.1,1.8 L9.0,2.1 L8.8,2.4 L8.6,2.7 L8.4,3.0 L8.1,3.3 L7.9,3.6 L7.6,3.8 L7.3,4.1 L7.0,4.4 L6.6,4.6 L6.3,4.8 L5.9,5.0 L5.5,5.2 L5.1,5.4 L4.7,5.6 L4.2,5.7 L3.8,5.9 L3.3,6.0 L2.9,6.1 L2.4,6.2 L1.9,6.3 L1.4,6.3 L0.9,6.4 L0.4,6.4 L-0.1,6.4 L-0.5,6.4 L-1.0,6.4 L-1.5,6.3 L-2.0,6.3 L-2.5,6.2 L-3.0,6.1 L-3.4,6.0 L-3.9,5.8 L-4.3,5.7 L-4.7,5.5" transform="translate(406.4 511) rotate(-35)" fill="none" stroke="#000" stroke-width="1.0"/>
<path d="M-6.9,-2.6 L-6.7,-2.8 L-6.5,-3.1 L-6.2,-3.3 L-6.0,-3.5 L-5.7,-3.7 L-5.4,-3.9 L-5.1,-4.0 L-4.7,-4.2 L-4.4,-4.3 L-4.0,-4.5 L-3.7,-4.6 L-3.3,-4.7 L-2.9,-4.8 L-2.5,-4.9 L-2.1,-5.0 L-1.7,-5.1 L-1.3,-5.1 L-0.9,-5.2 L-0.5,-5.2 L-0.1,-5.2 L0.3,-5.2 L0.7,-5.2 L1.1,-5.1 L1.6,-5.1 L2.0,-5.0 L2.4,-5.0 L2.8,-4.9 L3.1,-4.8 L3.5,-4.7 L3.9,-4.5 L4.2,-4.4 L4.6,-4.3 L4.9,-4.1 L5.2,-3.9 L5.5,-3.8 L5.8,-3.6 L6.1,-3.4 L6.4,-3.1 L6.6,-2.9 L6.8,-2.7 L7.0,-2.5 L7.2,-2.2 L7.4,-2.0 L7.5,-1.7 L7.7,-1.5 L7.8,-1.2 L7.9,-1.0 L7.9,-0.7 L8.0,-0.4 L8.0,-0.1 L8.0,0.1 L8.0,0.4 L7.9,0.7 L7.9,0.9 L7.8,1.2 L7.7,1.4 L7.6,1.7 L7.4,2.0 L7.2,2.2 L7.1,2.4 L6.9,2.7 L6.6,2.9 L6.4,3.1 L6.1,3.3 L5.9,3.5 L5.6,3.7 L5.3,3.9 L5.0,4.1 L4.6,4.2 L4.3,4.4 L3.9,4.5 L3.6,4.7 L3.2,4.8 L2.8,4.9 L2.4,5.0 L2.0,5.0 L1.6,5.1 L1.2,5.1 L0.8,5.2 L0.4,5.2 L-0.0,5.2 L-0.5,5.2 L-0.9,5.2 L-1.3,5.1 L-1.7,5.1 L-2.1,5.0 L-2.5,4.9 L-2.9,4.9 L-3.3,4.7 L-3.6,4.6 L-4.0,4.5" transform="translate(407.2 511) rotate(-35)" fill="none" stroke="#000" stroke-width="1.4"/>
<path d="M344.5,496V503Q355,510 365.5,503V496" class="w"/>
<ellipse cx="355" cy="496" rx="10.5" ry="5" class="w"/>
<ellipse cx="355" cy="495.5" rx="6.5" ry="3" class="kb"/>
<path d="M365.3,499.9 L365.2,500.1 L365.1,500.4 L364.9,500.6 L364.7,500.9 L364.5,501.1 L364.3,501.3 L364.0,501.6 L363.7,501.8 L363.4,502.0 L363.1,502.2 L362.7,502.4 L362.4,502.6 L362.0,502.7 L361.5,502.9 L361.1,503.1 L360.7,503.2 L360.2,503.3 L359.7,503.5 L359.2,503.6 L358.7,503.7 L358.2,503.8 L357.7,503.8 L357.2,503.9 L356.6,503.9 L356.1,504.0 L355.5,504.0 L355.0,504.0 L354.5,504.0 L353.9,504.0 L353.4,503.9 L352.8,503.9 L352.3,503.8 L351.8,503.8 L351.3,503.7 L350.8,503.6 L350.3,503.5 L349.8,503.3 L349.3,503.2 L348.9,503.1 L348.5,502.9 L348.0,502.7 L347.6,502.6 L347.3,502.4 L346.9,502.2 L346.6,502.0 L346.3,501.8 L346.0,501.6 L345.7,501.3 L345.5,501.1 L345.3,500.9 L345.1,500.6 L344.9,500.4 L344.8,500.1 L344.7,499.9" class="kt"/>
<ellipse cx="436" cy="530" rx="10" ry="6" class="w"/>
<ellipse cx="436" cy="529.5" rx="6" ry="3.5" class="kb"/>
<path d="M426,530V535Q436,541 446,535V530" class="k"/>
<path d="M446,538L461.4,533.9L469,538.3L494,530.5V563L472.6,572V596" class="k"/>
<path d="M494,519L497,520V539.5" class="kt"/>
<path d="M446,538L444,525M462,514L494,519" class="k"/>
<ellipse cx="481" cy="523.5" rx="11" ry="13.5" transform="rotate(20 481 523.5)" fill="#fff" stroke="#000" stroke-width="1.5"/>
<ellipse cx="481" cy="523.5" rx="8" ry="10.5" transform="rotate(20 481 523.5)" fill="none" stroke="#000" stroke-width="1"/>
<ellipse cx="487" cy="523" rx="6" ry="7.5" transform="rotate(20 487 523)" fill="#fff" stroke="#000" stroke-width="1.5"/>
<path d="M476,553L486,545Q491,543 491,548L489,553L479,559Q473,561 474,556Z" class="k"/>
<path d="M478,553L487,547" class="kt"/>
<ellipse cx="454.5" cy="563" rx="4" ry="4.5" class="k"/>
<ellipse cx="460.5" cy="583.5" rx="5.5" ry="6" class="k"/>
<path d="M381.2,546.5L404,540L425,547.3L407,556Z" class="w"/>
<path d="M425,547.3V580.7L413.8,589" class="k"/>
<path d="M381.2,546.5C371,549 366,558 368,568C370,580 378,587 392,588.5L408,589C414,588 415,583 413.8,577L407,556" class="w"/>
<ellipse cx="397.5" cy="550.6" rx="6.5" ry="2.8" class="k"/>
<path d="M373.8,557.5L386,561.5V572.6L373.8,568.6Z M377.5,559V570" class="k"/>
<path d="M389.3,565L413,572.5L415.4,571V580.7L389.3,573.5Z M398,568V576.5" class="k"/>
<path d="M384.4,588V596M407,589V594" class="kt"/>
<path d="M347.3,577.8L358.5,588L367.2,608.5" class="k"/>
<path d="M347.3,577.8L364,610" class="k"/>
<path d="M355,621.5L400.6,638.7L408,641.7V629L412,628L415.3,630V646L408,641.7" class="k"/>
<path d="M364,610L412,629M366,608L413,626.5" class="k"/>
<path d="M413,655Q406,657 405,650V646M413,655Q421,656 422,650" class="k"/>
<path d="M386,587.3L425.9,609.3M387.6,595.5L425,616" class="k"/>
<path d="M382,600.4C385,612 392,620 402,624C410,627 418,629 424.2,630V619C416,617 405,612 398,606C394,603 391,600 389,597Z" fill="#4a4a4a" stroke="#000" stroke-width="1.4"/>
<path d="M386,604C390,613 398,619 408,623M390,602C394,609 402,615 412,619" fill="none" stroke="#999" stroke-width="0.7" stroke-dasharray="1.2 1"/>
<path d="M395,597C402,606 412,612 424,614" class="kt"/>
<path d="M366,598V601Q374,607 382,601V598" class="w"/>
<ellipse cx="374" cy="598" rx="8" ry="5" class="w"/>
<ellipse cx="374" cy="597.5" rx="4.5" ry="2.6" class="kb"/>
<ellipse cx="412.8" cy="594.6" rx="5.8" ry="5.6" class="w"/>
<path d="M470.8,572.6L513,587.2M472,569.5L513,584" class="kt"/>
<path d="M446.8,605C462,603 478,597 485.5,589M446.8,609C464,608 482,602 490,594" class="k"/>
<path d="M446.8,628C470,630 500,622 510.6,607C508,600 500,597 492,598" class="k"/>
<path d="M446.8,614C470,616 498,610 508,601" class="kt"/>
<path d="M446.8,624C468,626 496,620 506,610" class="kt"/>
<path d="M488,593L503,590L506.6,596L495,600Z" class="w"/>
<ellipse cx="498" cy="594.5" rx="7" ry="3" class="w"/>
<ellipse cx="498" cy="594.3" rx="3.5" ry="1.5" class="k"/>
<path d="M436.7,641.7L527.5,607V621.5L436.7,654Z" class="w"/>
<path d="M453.5,641.7V654M436.7,641.7L445,638L527.5,607M520,610V623" class="k"/>
<path d="M476,629L500,621L507,624V641L482,648L476,645Z" class="w"/>
<path d="M476,629L482,632V648M482,632L507,624" class="k"/>
<ellipse cx="502.8" cy="632.7" rx="3.5" ry="3.5" class="k"/>
<ellipse cx="489" cy="638" rx="2" ry="1.5" class="k"/>
<path d="M483,648V655M488,647V654M494,645V652" class="k"/>
<path d="M469,615L490,609L499,613L484,620Z" class="w"/>
<ellipse cx="493" cy="615" rx="5" ry="4" class="w"/>
<path d="M470,625L492,619" class="k"/>
<path d="M574.0,728.5 L573.8,731.4 L573.3,734.4 L572.5,737.3 L571.4,740.2 L569.9,743.0 L568.1,745.8 L566.0,748.6 L563.6,751.3 L560.9,754.0 L557.9,756.6 L554.6,759.1 L551.1,761.5 L547.2,763.9 L543.1,766.1 L538.8,768.3 L534.2,770.3 L529.4,772.3 L524.4,774.1 L519.2,775.8 L513.8,777.4 L508.3,778.8 L502.6,780.1 L496.7,781.3 L490.7,782.3 L484.7,783.2 L478.5,784.0 L472.2,784.6 L465.9,785.0 L459.6,785.3 L453.2,785.5 L446.8,785.5 L440.4,785.3 L434.1,785.0 L427.8,784.6 L421.5,784.0 L415.3,783.2 L409.3,782.3 L403.3,781.3 L397.4,780.1 L391.7,778.8 L386.2,777.4 L380.8,775.8 L375.6,774.1 L370.6,772.3 L365.8,770.3 L361.2,768.3 L356.9,766.1 L352.8,763.9 L348.9,761.5 L345.4,759.1 L342.1,756.6 L339.1,754.0 L336.4,751.3 L334.0,748.6 L331.9,745.8 L330.1,743.0 L328.6,740.2 L327.5,737.3 L326.7,734.4 L326.2,731.4 L326.0,728.5" class="k"/>
<path d="M326.0,726.0 L326.2,723.2 L326.7,720.4 L327.5,717.6 L328.6,714.9 L330.1,712.1 L331.9,709.4 L334.0,706.8 L336.4,704.2 L339.1,701.6 L342.1,699.2 L345.4,696.8 L348.9,694.4 L352.8,692.2 L356.9,690.0 L361.2,688.0 L365.8,686.0 L370.6,684.2 L375.6,682.4 L380.8,680.8 L386.2,679.3 L391.7,677.9 L397.4,676.6 L403.3,675.5 L409.3,674.5 L415.3,673.7 L421.5,673.0 L427.8,672.4 L434.1,672.0 L440.4,671.7 L446.8,671.5 L453.2,671.5 L459.6,671.7 L465.9,672.0 L472.2,672.4 L478.5,673.0 L484.7,673.7 L490.7,674.5 L496.7,675.5 L502.6,676.6 L508.3,677.9 L513.8,679.3 L519.2,680.8 L524.4,682.4 L529.4,684.2 L534.2,686.0 L538.8,688.0 L543.1,690.0 L547.2,692.2 L551.1,694.4 L554.6,696.8 L557.9,699.2 L560.9,701.6 L563.6,704.2 L566.0,706.8 L568.1,709.4 L569.9,712.1 L571.4,714.9 L572.5,717.6 L573.3,720.4 L573.8,723.2 L574.0,726.0" class="k"/>
<path d="M574.0,726.0 L573.9,728.3 L573.6,730.6 L573.0,732.8 L572.3,735.1 L571.3,737.3" class="k"/>
<path d="M328.7,737.3 L327.7,735.1 L327.0,732.8 L326.4,730.6 L326.1,728.3 L326.0,726.0" class="k"/>
<path d="M326,726V729M574,726V729" class="k"/>
<path d="M328.5,725.9 L328.7,723.2 L329.1,720.6 L330.0,717.9 L331.1,715.3 L332.5,712.7 L334.3,710.1 L336.4,707.6 L338.8,705.2 L341.4,702.7 L344.4,700.4 L347.6,698.1 L351.2,695.9 L354.9,693.8 L359.0,691.7 L363.3,689.7 L367.8,687.9 L372.5,686.1 L377.5,684.5 L382.6,682.9 L387.9,681.5 L393.4,680.2 L399.1,679.0 L404.9,677.9 L410.8,677.0 L416.8,676.2 L422.9,675.5 L429.0,674.9 L435.3,674.5 L441.5,674.3 L447.8,674.1 L454.2,674.1 L460.5,674.3 L466.7,674.5 L473.0,674.9 L479.1,675.5 L485.2,676.2 L491.2,677.0 L497.1,677.9 L502.9,679.0 L508.6,680.2 L514.1,681.5 L519.4,682.9 L524.5,684.5 L529.5,686.1 L534.2,687.9 L538.7,689.7 L543.0,691.7 L547.1,693.8 L550.8,695.9 L554.4,698.1 L557.6,700.4 L560.6,702.7 L563.2,705.2 L565.6,707.6 L567.7,710.1 L569.5,712.7 L570.9,715.3 L572.0,717.9 L572.9,720.6 L573.3,723.2 L573.5,725.9" class="k"/>
<path d="M573.5,725.9 L573.3,728.6 L572.9,731.2 L572.0,733.9 L570.9,736.5 L569.5,739.1 L567.7,741.7 L565.6,744.2 L563.2,746.6 L560.6,749.1 L557.6,751.4 L554.4,753.7 L550.8,755.9 L547.1,758.0 L543.0,760.1 L538.7,762.1 L534.2,763.9 L529.5,765.7 L524.5,767.3 L519.4,768.9 L514.1,770.3 L508.6,771.6 L502.9,772.8 L497.1,773.9 L491.2,774.8 L485.2,775.6 L479.1,776.3 L473.0,776.9 L466.7,777.3 L460.5,777.5 L454.2,777.7 L447.8,777.7 L441.5,777.5 L435.3,777.3 L429.0,776.9 L422.9,776.3 L416.8,775.6 L410.8,774.8 L404.9,773.9 L399.1,772.8 L393.4,771.6 L387.9,770.3 L382.6,768.9 L377.5,767.3 L372.5,765.7 L367.8,763.9 L363.3,762.1 L359.0,760.1 L354.9,758.0 L351.2,755.9 L347.6,753.7 L344.4,751.4 L341.4,749.1 L338.8,746.6 L336.4,744.2 L334.3,741.7 L332.5,739.1 L331.1,736.5 L330.0,733.9 L329.1,731.2 L328.7,728.6 L328.5,725.9" fill="none" stroke="#000" stroke-width="2.3"/>
<ellipse cx="451" cy="724.8" rx="119.6" ry="49.3" class="k"/>
<ellipse cx="450" cy="724.2" rx="115.7" ry="47.2" class="k"/>
<ellipse cx="450" cy="723.7" rx="113" ry="44.7" class="k"/>
<ellipse cx="450" cy="723.1" rx="109.3" ry="42.5" class="k"/>
<path d="M550.2,748.6 L547.1,750.7 L543.8,752.6 L540.2,754.6 L536.4,756.4 L532.3,758.2 L528.1,759.8 L523.6,761.4 L519.0,762.9 L514.1,764.3 L509.1,765.6 L504.0,766.8 L498.7,767.8 L493.3,768.8 L487.7,769.6 L482.1,770.3 L476.4,771.0 L470.6,771.4 L464.7,771.8 L458.9,772.1 L453.0,772.2 L447.0,772.2 L441.1,772.1 L435.3,771.8 L429.4,771.4 L423.6,771.0 L417.9,770.3 L412.3,769.6 L406.7,768.8 L401.3,767.8 L396.0,766.8 L390.9,765.6 L385.9,764.3 L381.0,762.9 L376.4,761.4 L371.9,759.8 L367.7,758.2 L363.6,756.4 L359.8,754.6 L356.2,752.6 L352.9,750.7 L349.8,748.6" class="kt"/>
<path d="M542.6,750.1 L539.1,752.0 L535.4,753.8 L531.4,755.5 L527.2,757.1 L522.8,758.7 L518.3,760.1 L513.5,761.5 L508.6,762.7 L503.5,763.9 L498.2,764.9 L492.9,765.9 L487.4,766.7 L481.8,767.4 L476.1,768.0 L470.4,768.5 L464.6,768.8 L458.8,769.1 L452.9,769.2 L447.1,769.2 L441.2,769.1 L435.4,768.8 L429.6,768.5 L423.9,768.0 L418.2,767.4 L412.6,766.7 L407.1,765.9 L401.8,764.9 L396.5,763.9 L391.4,762.7 L386.5,761.5 L381.7,760.1 L377.2,758.7 L372.8,757.1 L368.6,755.5 L364.6,753.8 L360.9,752.0 L357.4,750.1" class="kt"/>
<path d="M550.2,749.4 L547.1,751.5 L543.8,753.4 L540.2,755.4 L536.4,757.2 L532.3,759.0 L528.1,760.6 L523.6,762.2 L519.0,763.7 L514.1,765.1 L509.1,766.4 L504.0,767.6 L498.7,768.6 L493.3,769.6 L487.7,770.4 L482.1,771.1 L476.4,771.8 L470.6,772.2 L464.7,772.6 L458.9,772.9 L453.0,773.0 L447.0,773.0 L441.1,772.9 L435.3,772.6 L429.4,772.2 L423.6,771.8 L417.9,771.1 L412.3,770.4 L406.7,769.6 L401.3,768.6 L396.0,767.6 L390.9,766.4 L385.9,765.1 L381.0,763.7 L376.4,762.2 L371.9,760.6 L367.7,759.0 L363.6,757.2 L359.8,755.4 L356.2,753.4 L352.9,751.5 L349.8,749.4" class="kt"/>
<path d="M542.6,750.9 L539.1,752.8 L535.4,754.6 L531.4,756.3 L527.2,757.9 L522.8,759.5 L518.3,760.9 L513.5,762.3 L508.6,763.5 L503.5,764.7 L498.2,765.7 L492.9,766.7 L487.4,767.5 L481.8,768.2 L476.1,768.8 L470.4,769.3 L464.6,769.6 L458.8,769.9 L452.9,770.0 L447.1,770.0 L441.2,769.9 L435.4,769.6 L429.6,769.3 L423.9,768.8 L418.2,768.2 L412.6,767.5 L407.1,766.7 L401.8,765.7 L396.5,764.7 L391.4,763.5 L386.5,762.3 L381.7,760.9 L377.2,759.5 L372.8,757.9 L368.6,756.3 L364.6,754.6 L360.9,752.8 L357.4,750.9" class="kt"/>
<path d="M550.2,750.2 L547.1,752.3 L543.8,754.2 L540.2,756.2 L536.4,758.0 L532.3,759.8 L528.1,761.4 L523.6,763.0 L519.0,764.5 L514.1,765.9 L509.1,767.2 L504.0,768.4 L498.7,769.4 L493.3,770.4 L487.7,771.2 L482.1,771.9 L476.4,772.6 L470.6,773.0 L464.7,773.4 L458.9,773.7 L453.0,773.8 L447.0,773.8 L441.1,773.7 L435.3,773.4 L429.4,773.0 L423.6,772.6 L417.9,771.9 L412.3,771.2 L406.7,770.4 L401.3,769.4 L396.0,768.4 L390.9,767.2 L385.9,765.9 L381.0,764.5 L376.4,763.0 L371.9,761.4 L367.7,759.8 L363.6,758.0 L359.8,756.2 L356.2,754.2 L352.9,752.3 L349.8,750.2" class="kt"/>
<path d="M542.6,751.7 L539.1,753.6 L535.4,755.4 L531.4,757.1 L527.2,758.7 L522.8,760.3 L518.3,761.7 L513.5,763.1 L508.6,764.3 L503.5,765.5 L498.2,766.5 L492.9,767.5 L487.4,768.3 L481.8,769.0 L476.1,769.6 L470.4,770.1 L464.6,770.4 L458.8,770.7 L452.9,770.8 L447.1,770.8 L441.2,770.7 L435.4,770.4 L429.6,770.1 L423.9,769.6 L418.2,769.0 L412.6,768.3 L407.1,767.5 L401.8,766.5 L396.5,765.5 L391.4,764.3 L386.5,763.1 L381.7,761.7 L377.2,760.3 L372.8,758.7 L368.6,757.1 L364.6,755.4 L360.9,753.6 L357.4,751.7" class="kt"/>
<path d="M423.5,695.0 L423.5,695.4 L423.4,695.8 L423.3,696.2 L423.2,696.5 L423.0,696.9 L422.8,697.3 L422.6,697.6 L422.3,698.0 L422.0,698.4 L421.7,698.7 L421.3,699.0 L420.9,699.3 L420.5,699.7 L420.0,700.0 L419.5,700.2 L419.0,700.5 L418.5,700.8 L417.9,701.0 L417.3,701.2 L416.7,701.4 L416.1,701.6 L415.4,701.8 L414.8,701.9 L414.1,702.1 L413.4,702.2 L412.7,702.3 L412.0,702.4 L411.3,702.4 L410.6,702.5 L409.9,702.5 L409.1,702.5 L408.4,702.5 L407.7,702.4 L407.0,702.4 L406.3,702.3 L405.6,702.2 L404.9,702.1 L404.2,701.9 L403.6,701.8 L402.9,701.6 L402.3,701.4 L401.7,701.2 L401.1,701.0 L400.5,700.8 L400.0,700.5 L399.5,700.2 L399.0,700.0 L398.5,699.7 L398.1,699.3 L397.7,699.0 L397.3,698.7 L397.0,698.4 L396.7,698.0 L396.4,697.6 L396.2,697.3 L396.0,696.9 L395.8,696.5 L395.7,696.2 L395.6,695.8 L395.5,695.4 L395.5,695.0" class="k"/>
<path d="M395.5,688V695M423.5,688V695" class="k"/>
<path d="M397.0,687V693M422.0,687V693" class="kt"/>
<ellipse cx="409.5" cy="687" rx="12.5" ry="6.5" class="w"/>
<ellipse cx="409.5" cy="687" rx="12.5" ry="6.5" fill="none" stroke="#000" stroke-width="2"/>
<ellipse cx="409.5" cy="687.8" rx="9.0" ry="4.42" class="k"/>
<ellipse cx="409.5" cy="688.5" rx="5.25" ry="2.47" class="kt"/>
<path d="M452.0,701.0 L452.0,701.4 L451.9,701.9 L451.8,702.3 L451.7,702.7 L451.5,703.2 L451.2,703.6 L451.0,704.0 L450.7,704.4 L450.3,704.8 L449.9,705.2 L449.5,705.6 L449.0,705.9 L448.5,706.3 L448.0,706.6 L447.5,706.9 L446.9,707.2 L446.2,707.5 L445.6,707.8 L444.9,708.1 L444.2,708.3 L443.5,708.5 L442.8,708.7 L442.0,708.9 L441.3,709.0 L440.5,709.2 L439.7,709.3 L438.9,709.4 L438.1,709.4 L437.2,709.5 L436.4,709.5 L435.6,709.5 L434.8,709.5 L433.9,709.4 L433.1,709.4 L432.3,709.3 L431.5,709.2 L430.7,709.0 L430.0,708.9 L429.2,708.7 L428.5,708.5 L427.8,708.3 L427.1,708.1 L426.4,707.8 L425.8,707.5 L425.1,707.2 L424.5,706.9 L424.0,706.6 L423.5,706.3 L423.0,705.9 L422.5,705.6 L422.1,705.2 L421.7,704.8 L421.3,704.4 L421.0,704.0 L420.8,703.6 L420.5,703.2 L420.3,702.7 L420.2,702.3 L420.1,701.9 L420.0,701.4 L420.0,701.0" class="k"/>
<path d="M420.0,694V701M452.0,694V701" class="k"/>
<path d="M421.5,693V699M450.5,693V699" class="kt"/>
<ellipse cx="436" cy="693" rx="14.5" ry="7.5" class="w"/>
<ellipse cx="436" cy="693" rx="14.5" ry="7.5" fill="none" stroke="#000" stroke-width="2"/>
<ellipse cx="436" cy="693.8" rx="10.44" ry="5.1000000000000005" class="k"/>
<ellipse cx="436" cy="694.5" rx="6.09" ry="2.85" class="kt"/>
<path d="M525.9,712.0 L525.9,712.7 L525.7,713.5 L525.5,714.2 L525.2,715.0 L524.7,715.7 L524.2,716.4 L523.7,717.1 L523.0,717.8 L522.2,718.5 L521.4,719.1 L520.4,719.8 L519.4,720.4 L518.3,721.0 L517.2,721.6 L516.0,722.1 L514.7,722.6 L513.3,723.1 L511.9,723.6 L510.4,724.0 L508.9,724.4 L507.3,724.8 L505.7,725.1 L504.1,725.4 L502.4,725.7 L500.7,725.9 L498.9,726.1 L497.2,726.3 L495.4,726.4 L493.6,726.5 L491.8,726.5 L490.0,726.5 L488.2,726.5 L486.4,726.4 L484.6,726.3 L482.9,726.1 L481.1,725.9 L479.4,725.7 L477.7,725.4 L476.1,725.1 L474.5,724.8 L472.9,724.4 L471.4,724.0 L469.9,723.6 L468.5,723.1 L467.1,722.6 L465.8,722.1 L464.6,721.6 L463.5,721.0 L462.4,720.4 L461.4,719.8 L460.4,719.1 L459.6,718.5 L458.8,717.8 L458.1,717.1 L457.6,716.4 L457.1,715.7 L456.6,715.0 L456.3,714.2 L456.1,713.5 L455.9,712.7 L455.9,712.0" class="k"/>
<path d="M455.9,705V712M525.9,705V712" class="k"/>
<ellipse cx="490.9" cy="702.7" rx="32.5" ry="14.3" class="w"/>
<ellipse cx="490.9" cy="702.7" rx="32.5" ry="14.3" fill="none" stroke="#000" stroke-width="1.8"/>
<path d="M523.3,708.2 L523.1,709.0 L522.8,709.7 L522.4,710.4 L522.0,711.2 L521.5,711.9 L520.8,712.6 L520.1,713.2 L519.4,713.9 L518.5,714.5 L517.6,715.2 L516.6,715.8 L515.5,716.3 L514.4,716.9 L513.2,717.4 L511.9,717.9 L510.6,718.4 L509.2,718.8 L507.8,719.2 L506.3,719.6 L504.8,719.9 L503.3,720.2 L501.7,720.5 L500.1,720.7 L498.4,720.9 L496.8,721.1 L495.1,721.2 L493.4,721.3 L491.7,721.3 L490.1,721.3 L488.4,721.3 L486.7,721.2 L485.0,721.1 L483.4,720.9 L481.7,720.7 L480.1,720.5 L478.5,720.2 L477.0,719.9 L475.5,719.6 L474.0,719.2 L472.6,718.8 L471.2,718.4 L469.9,717.9 L468.6,717.4 L467.4,716.9 L466.3,716.3 L465.2,715.8 L464.2,715.2 L463.3,714.5 L462.4,713.9 L461.7,713.2 L461.0,712.6 L460.3,711.9 L459.8,711.2 L459.4,710.4 L459.0,709.7 L458.7,709.0 L458.5,708.2" class="k"/>
<ellipse cx="490.3" cy="701" rx="14.7" ry="6.5" class="k"/>
<ellipse cx="490.3" cy="701.6" rx="10" ry="4.8" class="k"/>
<path d="M371.5,734.5 L371.5,734.9 L371.4,735.3 L371.3,735.7 L371.2,736.0 L371.0,736.4 L370.7,736.8 L370.5,737.1 L370.2,737.5 L369.8,737.9 L369.4,738.2 L369.0,738.5 L368.5,738.8 L368.0,739.2 L367.5,739.5 L367.0,739.7 L366.4,740.0 L365.7,740.3 L365.1,740.5 L364.4,740.7 L363.7,740.9 L363.0,741.1 L362.3,741.3 L361.5,741.4 L360.8,741.6 L360.0,741.7 L359.2,741.8 L358.4,741.9 L357.6,741.9 L356.7,742.0 L355.9,742.0 L355.1,742.0 L354.3,742.0 L353.4,741.9 L352.6,741.9 L351.8,741.8 L351.0,741.7 L350.2,741.6 L349.5,741.4 L348.7,741.3 L348.0,741.1 L347.3,740.9 L346.6,740.7 L345.9,740.5 L345.3,740.3 L344.6,740.0 L344.0,739.7 L343.5,739.5 L343.0,739.2 L342.5,738.8 L342.0,738.5 L341.6,738.2 L341.2,737.9 L340.8,737.5 L340.5,737.1 L340.3,736.8 L340.0,736.4 L339.8,736.0 L339.7,735.7 L339.6,735.3 L339.5,734.9 L339.5,734.5" class="k"/>
<path d="M339.5,728.5V734.5M371.5,728.5V734.5" class="k"/>
<path d="M341.0,727.5V732.5M370.0,727.5V732.5" class="kt"/>
<ellipse cx="355.5" cy="727.5" rx="14.5" ry="6.5" class="w"/>
<ellipse cx="355.5" cy="727.5" rx="14.5" ry="6.5" fill="none" stroke="#000" stroke-width="2"/>
<ellipse cx="355.5" cy="728.3" rx="10.44" ry="4.42" class="k"/>
<ellipse cx="355.5" cy="729.0" rx="6.09" ry="2.47" class="kt"/>
<path d="M537.5,736.0 L537.5,736.4 L537.4,736.8 L537.3,737.2 L537.2,737.6 L537.0,738.0 L536.7,738.4 L536.5,738.8 L536.2,739.2 L535.8,739.6 L535.4,739.9 L535.0,740.3 L534.5,740.6 L534.0,741.0 L533.5,741.3 L533.0,741.6 L532.4,741.9 L531.7,742.1 L531.1,742.4 L530.4,742.6 L529.7,742.9 L529.0,743.1 L528.3,743.2 L527.5,743.4 L526.8,743.6 L526.0,743.7 L525.2,743.8 L524.4,743.9 L523.6,743.9 L522.7,744.0 L521.9,744.0 L521.1,744.0 L520.3,744.0 L519.4,743.9 L518.6,743.9 L517.8,743.8 L517.0,743.7 L516.2,743.6 L515.5,743.4 L514.7,743.2 L514.0,743.1 L513.3,742.9 L512.6,742.6 L511.9,742.4 L511.3,742.1 L510.6,741.9 L510.0,741.6 L509.5,741.3 L509.0,741.0 L508.5,740.6 L508.0,740.3 L507.6,739.9 L507.2,739.6 L506.8,739.2 L506.5,738.8 L506.3,738.4 L506.0,738.0 L505.8,737.6 L505.7,737.2 L505.6,736.8 L505.5,736.4 L505.5,736.0" class="k"/>
<path d="M505.5,730V736M537.5,730V736" class="k"/>
<path d="M507.0,729V734M536.0,729V734" class="kt"/>
<ellipse cx="521.5" cy="729" rx="14.5" ry="7" class="w"/>
<ellipse cx="521.5" cy="729" rx="14.5" ry="7" fill="none" stroke="#000" stroke-width="2"/>
<ellipse cx="521.5" cy="729.8" rx="10.44" ry="4.760000000000001" class="k"/>
<ellipse cx="521.5" cy="730.5" rx="6.09" ry="2.66" class="kt"/>
<path d="M550.5,746.5 L550.5,746.9 L550.4,747.2 L550.3,747.6 L550.2,747.9 L550.0,748.3 L549.8,748.6 L549.6,749.0 L549.3,749.3 L549.0,749.6 L548.7,749.9 L548.3,750.3 L547.9,750.6 L547.5,750.8 L547.0,751.1 L546.5,751.4 L546.0,751.6 L545.5,751.9 L544.9,752.1 L544.3,752.3 L543.7,752.5 L543.1,752.7 L542.4,752.8 L541.8,753.0 L541.1,753.1 L540.4,753.2 L539.7,753.3 L539.0,753.4 L538.3,753.4 L537.6,753.5 L536.9,753.5 L536.1,753.5 L535.4,753.5 L534.7,753.4 L534.0,753.4 L533.3,753.3 L532.6,753.2 L531.9,753.1 L531.2,753.0 L530.6,752.8 L529.9,752.7 L529.3,752.5 L528.7,752.3 L528.1,752.1 L527.5,751.9 L527.0,751.6 L526.5,751.4 L526.0,751.1 L525.5,750.8 L525.1,750.6 L524.7,750.3 L524.3,749.9 L524.0,749.6 L523.7,749.3 L523.4,749.0 L523.2,748.6 L523.0,748.3 L522.8,747.9 L522.7,747.6 L522.6,747.2 L522.5,746.9 L522.5,746.5" class="k"/>
<path d="M522.5,741.5V746.5M550.5,741.5V746.5" class="k"/>
<path d="M524.0,740.5V744.5M549.0,740.5V744.5" class="kt"/>
<ellipse cx="536.5" cy="740.5" rx="12.5" ry="6" class="w"/>
<ellipse cx="536.5" cy="740.5" rx="12.5" ry="6" fill="none" stroke="#000" stroke-width="2"/>
<ellipse cx="536.5" cy="741.3" rx="9.0" ry="4.08" class="k"/>
<ellipse cx="536.5" cy="742.0" rx="5.25" ry="2.2800000000000002" class="kt"/>
<path d="M394.5,757.0 L394.5,757.3 L394.4,757.7 L394.3,758.0 L394.2,758.3 L394.0,758.7 L393.8,759.0 L393.6,759.3 L393.3,759.6 L393.0,759.9 L392.6,760.2 L392.2,760.5 L391.8,760.8 L391.4,761.0 L390.9,761.3 L390.4,761.5 L389.8,761.8 L389.3,762.0 L388.7,762.2 L388.1,762.4 L387.5,762.6 L386.8,762.7 L386.1,762.9 L385.5,763.0 L384.8,763.1 L384.1,763.2 L383.3,763.3 L382.6,763.4 L381.9,763.4 L381.1,763.5 L380.4,763.5 L379.6,763.5 L378.9,763.5 L378.1,763.4 L377.4,763.4 L376.7,763.3 L375.9,763.2 L375.2,763.1 L374.5,763.0 L373.9,762.9 L373.2,762.7 L372.5,762.6 L371.9,762.4 L371.3,762.2 L370.7,762.0 L370.2,761.8 L369.6,761.5 L369.1,761.3 L368.6,761.0 L368.2,760.8 L367.8,760.5 L367.4,760.2 L367.0,759.9 L366.7,759.6 L366.4,759.3 L366.2,759.0 L366.0,758.7 L365.8,758.3 L365.7,758.0 L365.6,757.7 L365.5,757.3 L365.5,757.0" class="k"/>
<path d="M365.5,752V757M394.5,752V757" class="k"/>
<path d="M367,751V755M393,751V755" class="kt"/>
<ellipse cx="380" cy="751" rx="13" ry="5.5" class="w"/>
<ellipse cx="380" cy="751" rx="13" ry="5.5" fill="none" stroke="#000" stroke-width="2"/>
<ellipse cx="380" cy="751.8" rx="9.36" ry="3.74" class="k"/>
<ellipse cx="380" cy="752.5" rx="5.46" ry="2.09" class="kt"/>
<path d="M452.0,766.0 L452.0,766.3 L451.9,766.7 L451.8,767.0 L451.7,767.3 L451.5,767.7 L451.2,768.0 L451.0,768.3 L450.7,768.6 L450.3,768.9 L449.9,769.2 L449.5,769.5 L449.0,769.8 L448.5,770.0 L448.0,770.3 L447.5,770.5 L446.9,770.8 L446.2,771.0 L445.6,771.2 L444.9,771.4 L444.2,771.6 L443.5,771.7 L442.8,771.9 L442.0,772.0 L441.3,772.1 L440.5,772.2 L439.7,772.3 L438.9,772.4 L438.1,772.4 L437.2,772.5 L436.4,772.5 L435.6,772.5 L434.8,772.5 L433.9,772.4 L433.1,772.4 L432.3,772.3 L431.5,772.2 L430.7,772.1 L430.0,772.0 L429.2,771.9 L428.5,771.7 L427.8,771.6 L427.1,771.4 L426.4,771.2 L425.8,771.0 L425.1,770.8 L424.5,770.5 L424.0,770.3 L423.5,770.0 L423.0,769.8 L422.5,769.5 L422.1,769.2 L421.7,768.9 L421.3,768.6 L421.0,768.3 L420.8,768.0 L420.5,767.7 L420.3,767.3 L420.2,767.0 L420.1,766.7 L420.0,766.3 L420.0,766.0" class="k"/>
<path d="M420.0,761V766M452.0,761V766" class="k"/>
<path d="M421.5,760V764M450.5,760V764" class="kt"/>
<ellipse cx="436" cy="760" rx="14.5" ry="5.5" class="w"/>
<ellipse cx="436" cy="760" rx="14.5" ry="5.5" fill="none" stroke="#000" stroke-width="2"/>
<ellipse cx="436" cy="760.8" rx="10.44" ry="3.74" class="k"/>
<ellipse cx="436" cy="761.5" rx="6.09" ry="2.09" class="kt"/>
<path d="M546.0,815.0 L546.0,815.2 L546.0,815.4 L545.9,815.5 L545.8,815.7 L545.7,815.9 L545.6,816.1 L545.5,816.2 L545.3,816.4 L545.1,816.6 L544.9,816.7 L544.7,816.9 L544.4,817.0 L544.2,817.2 L543.9,817.3 L543.6,817.4 L543.3,817.6 L542.9,817.7 L542.6,817.8 L542.2,817.9 L541.9,818.0 L541.5,818.1 L541.1,818.2 L540.7,818.2 L540.3,818.3 L539.9,818.4 L539.5,818.4 L539.0,818.4 L538.6,818.5 L538.2,818.5 L537.7,818.5 L537.3,818.5 L536.8,818.5 L536.4,818.5 L536.0,818.4 L535.5,818.4 L535.1,818.4 L534.7,818.3 L534.3,818.2 L533.9,818.2 L533.5,818.1 L533.1,818.0 L532.8,817.9 L532.4,817.8 L532.1,817.7 L531.7,817.6 L531.4,817.4 L531.1,817.3 L530.8,817.2 L530.6,817.0 L530.3,816.9 L530.1,816.7 L529.9,816.6 L529.7,816.4 L529.5,816.2 L529.4,816.1 L529.3,815.9 L529.2,815.7 L529.1,815.5 L529.0,815.4 L529.0,815.2 L529.0,815.0" class="k"/>
<path d="M529.0,812V815M546.0,812V815" class="k"/>
<ellipse cx="537.5" cy="812" rx="8.5" ry="3.4" class="w"/>
<path d="M533.5,798.0V811.5M541.5,798.0V811.5" class="k"/>
<ellipse cx="537.5" cy="798.0" rx="4" ry="1.6" class="k"/>
<path d="M444.1,816.3 L444.1,816.5 L444.1,816.7 L444.0,816.8 L443.9,817.0 L443.8,817.2 L443.7,817.4 L443.6,817.5 L443.4,817.7 L443.2,817.9 L443.0,818.0 L442.8,818.2 L442.5,818.3 L442.3,818.5 L442.0,818.6 L441.7,818.7 L441.4,818.9 L441.0,819.0 L440.7,819.1 L440.3,819.2 L440.0,819.3 L439.6,819.4 L439.2,819.5 L438.8,819.5 L438.4,819.6 L438.0,819.7 L437.6,819.7 L437.1,819.7 L436.7,819.8 L436.3,819.8 L435.8,819.8 L435.4,819.8 L434.9,819.8 L434.5,819.8 L434.1,819.7 L433.6,819.7 L433.2,819.7 L432.8,819.6 L432.4,819.5 L432.0,819.5 L431.6,819.4 L431.2,819.3 L430.9,819.2 L430.5,819.1 L430.2,819.0 L429.8,818.9 L429.5,818.7 L429.2,818.6 L428.9,818.5 L428.7,818.3 L428.4,818.2 L428.2,818.0 L428.0,817.9 L427.8,817.7 L427.6,817.5 L427.5,817.4 L427.4,817.2 L427.3,817.0 L427.2,816.8 L427.1,816.7 L427.1,816.5 L427.1,816.3" class="k"/>
<path d="M427.1,813.3V816.3M444.1,813.3V816.3" class="k"/>
<ellipse cx="435.6" cy="813.3" rx="8.5" ry="3.4" class="w"/>
<path d="M431.6,798.0V812.8M439.6,798.0V812.8" class="k"/>
<ellipse cx="435.6" cy="798.0" rx="4" ry="1.6" class="k"/>
<path d="M388.5,828.2 L388.5,828.4 L388.5,828.6 L388.4,828.7 L388.3,828.9 L388.2,829.1 L388.1,829.3 L388.0,829.4 L387.8,829.6 L387.6,829.8 L387.4,829.9 L387.2,830.1 L386.9,830.2 L386.7,830.4 L386.4,830.5 L386.1,830.6 L385.8,830.8 L385.4,830.9 L385.1,831.0 L384.7,831.1 L384.4,831.2 L384.0,831.3 L383.6,831.4 L383.2,831.4 L382.8,831.5 L382.4,831.6 L382.0,831.6 L381.5,831.6 L381.1,831.7 L380.7,831.7 L380.2,831.7 L379.8,831.7 L379.3,831.7 L378.9,831.7 L378.5,831.6 L378.0,831.6 L377.6,831.6 L377.2,831.5 L376.8,831.4 L376.4,831.4 L376.0,831.3 L375.6,831.2 L375.3,831.1 L374.9,831.0 L374.6,830.9 L374.2,830.8 L373.9,830.6 L373.6,830.5 L373.3,830.4 L373.1,830.2 L372.8,830.1 L372.6,829.9 L372.4,829.8 L372.2,829.6 L372.0,829.4 L371.9,829.3 L371.8,829.1 L371.7,828.9 L371.6,828.7 L371.5,828.6 L371.5,828.4 L371.5,828.2" class="k"/>
<path d="M371.5,825.2V828.2M388.5,825.2V828.2" class="k"/>
<ellipse cx="380" cy="825.2" rx="8.5" ry="3.4" class="w"/>
<path d="M376,810.5V824.7M384,810.5V824.7" class="k"/>
<ellipse cx="380" cy="810.5" rx="4" ry="1.6" class="k"/>
<path d="M531.5,852.0 L531.5,852.2 L531.5,852.4 L531.4,852.5 L531.3,852.7 L531.2,852.9 L531.1,853.1 L531.0,853.2 L530.8,853.4 L530.6,853.6 L530.4,853.7 L530.2,853.9 L529.9,854.0 L529.7,854.2 L529.4,854.3 L529.1,854.4 L528.8,854.6 L528.4,854.7 L528.1,854.8 L527.7,854.9 L527.4,855.0 L527.0,855.1 L526.6,855.2 L526.2,855.2 L525.8,855.3 L525.4,855.4 L525.0,855.4 L524.5,855.4 L524.1,855.5 L523.7,855.5 L523.2,855.5 L522.8,855.5 L522.3,855.5 L521.9,855.5 L521.5,855.4 L521.0,855.4 L520.6,855.4 L520.2,855.3 L519.8,855.2 L519.4,855.2 L519.0,855.1 L518.6,855.0 L518.3,854.9 L517.9,854.8 L517.6,854.7 L517.2,854.6 L516.9,854.4 L516.6,854.3 L516.3,854.2 L516.1,854.0 L515.8,853.9 L515.6,853.7 L515.4,853.6 L515.2,853.4 L515.0,853.2 L514.9,853.1 L514.8,852.9 L514.7,852.7 L514.6,852.5 L514.5,852.4 L514.5,852.2 L514.5,852.0" class="k"/>
<path d="M514.5,849V852M531.5,849V852" class="k"/>
<ellipse cx="523" cy="849" rx="8.5" ry="3.4" class="w"/>
<path d="M519,834.5V848.5M527,834.5V848.5" class="k"/>
<ellipse cx="523" cy="834.5" rx="4" ry="1.6" class="k"/>
<path d="M363.0,852.0 L363.0,852.2 L363.0,852.4 L362.9,852.5 L362.8,852.7 L362.7,852.9 L362.6,853.1 L362.5,853.2 L362.3,853.4 L362.1,853.6 L361.9,853.7 L361.7,853.9 L361.4,854.0 L361.2,854.2 L360.9,854.3 L360.6,854.4 L360.3,854.6 L359.9,854.7 L359.6,854.8 L359.2,854.9 L358.9,855.0 L358.5,855.1 L358.1,855.2 L357.7,855.2 L357.3,855.3 L356.9,855.4 L356.5,855.4 L356.0,855.4 L355.6,855.5 L355.2,855.5 L354.7,855.5 L354.3,855.5 L353.8,855.5 L353.4,855.5 L353.0,855.4 L352.5,855.4 L352.1,855.4 L351.7,855.3 L351.3,855.2 L350.9,855.2 L350.5,855.1 L350.1,855.0 L349.8,854.9 L349.4,854.8 L349.1,854.7 L348.7,854.6 L348.4,854.4 L348.1,854.3 L347.8,854.2 L347.6,854.0 L347.3,853.9 L347.1,853.7 L346.9,853.6 L346.7,853.4 L346.5,853.2 L346.4,853.1 L346.3,852.9 L346.2,852.7 L346.1,852.5 L346.0,852.4 L346.0,852.2 L346.0,852.0" class="k"/>
<path d="M346.0,849V852M363.0,849V852" class="k"/>
<ellipse cx="354.5" cy="849" rx="8.5" ry="3.4" class="w"/>
<path d="M350.5,834.5V848.5M358.5,834.5V848.5" class="k"/>
<ellipse cx="354.5" cy="834.5" rx="4" ry="1.6" class="k"/>
<path d="M444.1,885.0 L444.1,885.2 L444.1,885.4 L444.0,885.5 L443.9,885.7 L443.8,885.9 L443.7,886.1 L443.6,886.2 L443.4,886.4 L443.2,886.6 L443.0,886.7 L442.8,886.9 L442.5,887.0 L442.3,887.2 L442.0,887.3 L441.7,887.4 L441.4,887.6 L441.0,887.7 L440.7,887.8 L440.3,887.9 L440.0,888.0 L439.6,888.1 L439.2,888.2 L438.8,888.2 L438.4,888.3 L438.0,888.4 L437.6,888.4 L437.1,888.4 L436.7,888.5 L436.3,888.5 L435.8,888.5 L435.4,888.5 L434.9,888.5 L434.5,888.5 L434.1,888.4 L433.6,888.4 L433.2,888.4 L432.8,888.3 L432.4,888.2 L432.0,888.2 L431.6,888.1 L431.2,888.0 L430.9,887.9 L430.5,887.8 L430.2,887.7 L429.8,887.6 L429.5,887.4 L429.2,887.3 L428.9,887.2 L428.7,887.0 L428.4,886.9 L428.2,886.7 L428.0,886.6 L427.8,886.4 L427.6,886.2 L427.5,886.1 L427.4,885.9 L427.3,885.7 L427.2,885.5 L427.1,885.4 L427.1,885.2 L427.1,885.0" class="k"/>
<path d="M427.1,882V885M444.1,882V885" class="k"/>
<ellipse cx="435.6" cy="882" rx="8.5" ry="3.4" class="w"/>
<path d="M431.6,868.1V881.5M439.6,868.1V881.5" class="k"/>
<ellipse cx="435.6" cy="868.1" rx="4" ry="1.6" class="k"/>
<path d="M339.8,921C344,905 360,892 391,881C402,878 412,877 418,877L426.5,879.5M442.4,884.4L463.2,894.2Q468,897 468,899Q466,902 465.6,905.2C468,910 474,911 480,911.5C490,912.5 500,912.5 510.8,912.5L552.4,930.9Q556,933 554.8,934.5C548,945 530,952 500,959C480,963 465,965 452.2,965C420,964 395,958 372,950C355,943 342,933 339.8,921" class="k"/>
<path d="M619,402.5L629.5,405.5L631.5,409L618,408" class="w"/>
<ellipse cx="630" cy="407.3" rx="2.4" ry="2.2" fill="#111" stroke="#000" stroke-width="1"/>
<path d="M610,400Q611,395 617,395.5Q623,397 623.5,401Q623.5,406 618,407Q611,407.5 609.5,403Z" fill="#fff" stroke="#000" stroke-width="1.7"/>
<path d="M612.5,404Q612,399 616,397M616.5,405Q615.5,400 619,398.5" class="kt"/>
<path d="M626,424.8L657.6,412L661,410.5L671.3,410.2L695.2,399.6L700.7,401.9V426.7L642,451L636.5,448.7V442.2L632.8,440.4V431.7L626,429.4Z" class="w"/>
<path d="M626,424.8L636.5,424.8Q638,422 641,421.5L695.2,399.6M636.5,424.8V448.7" class="k"/>
<path d="M645.7,426.7L694.2,406M645.7,446L694.2,425.7" fill="none" stroke="#000" stroke-width="3.4" stroke-linecap="round"/>
<path d="M645.7,426.7L694.2,406M645.7,446L694.2,425.7" fill="none" stroke="#fff" stroke-width="0.9"/>
<ellipse cx="670.4" cy="424" rx="6.4" ry="5.5" class="w"/>
<ellipse cx="670.8" cy="424.5" rx="3.8" ry="3.3" class="k"/>
<path d="M697.3,471.3Q699,465 704.7,462.8L785.3,429.8Q790,428.5 795,431.6L802.4,434.7V466.4Q801,474 793.9,478.7C785,485 775,492 763.3,498.2C750,504 738,508 726.7,508L708.3,505.5Q698,503 697.3,497Z" class="w"/>
<path d="M705.9,464C712,466 714,467 718,467C735,465 750,460 763.3,455.4C775,450 786,443 793.9,438.3L800,433.4" class="k"/>
<path d="M718,469C735,467 750,462 764,457.5C776,452 787,445 795,440" class="kt"/>
<path d="M700.3,472V499M703.4,470V500" class="kt"/>
<path d="M796.3,436V468M799.5,434V467" class="kt"/>
<path d="M709.6,472.5V499.4Q710,503 714.4,503C740,497 770,488 793.9,472.5Q796,470 795,468.9V444.4" class="k"/>
<path d="M706.5,472V501Q708,505 714,505.5C740,500 772,490 796,474" class="kt"/>
<path d="M712,499.4L795,468.9" class="k"/>
<path d="M738.9,473.8L763,463Q768,461 768.2,465Q768,469 764,471L741,476Q736.4,477 736.4,475Q736.6,474.5 738.9,473.8Z" class="w"/>
<path d="M763,463Q760,458 764,455.4" class="kt"/>
<path d="M713.8,482.5L722,479.5V486L713.8,488.4ZM722,481Q722,475 726,474Q729,474 729.1,477" class="k"/>
<path d="M780.4,452L789,448.7L791.4,450V459L780.4,461.5Z M784,451V448Q786,446 788,448.5" class="k"/>
<path d="M816.2,501.4Q818,497 822,496L878.4,472.9Q884,472 892.4,482.4V504.8Q891,508 874,516L824.6,531.7Q817,531 816.8,528.3Z" class="w"/>
<path d="M836,498.6C850,496 868,490 883,481L892.4,482.4" class="k"/>
<path d="M816.2,501.4L822,505L836,498.6M822,505V530" class="k"/>
<path d="M883,481V510.4L889.6,507.6" class="k"/>
<clipPath id="kn"><path d="M834.7,499C850,497 868,490 883,481.5V510.4C868,518 850,525 834,529.5Z"/></clipPath>
<g clip-path="url(#kn)"><rect x="834.7" y="470" width="3.45" height="70" fill="#8a8a8a"/><rect x="838.1" y="470" width="2.85" height="70" fill="#111"/><rect x="840.9" y="470" width="5.05" height="70" fill="#c8c8c8"/><rect x="845.9" y="470" width="3.45" height="70" fill="#f4f4f4"/><rect x="849.3" y="470" width="1.75" height="70" fill="#111"/><rect x="851" y="470" width="5.05" height="70" fill="#999"/><rect x="856" y="470" width="3.45" height="70" fill="#111"/><rect x="859.4" y="470" width="3.35" height="70" fill="#999"/><rect x="862.7" y="470" width="7.85" height="70" fill="#0a0a0a"/><rect x="870.5" y="470" width="1.85" height="70" fill="#999"/><rect x="872.3" y="470" width="6.15" height="70" fill="#0a0a0a"/><rect x="878.4" y="470" width="2.35" height="70" fill="#aaa"/><rect x="880.7" y="470" width="2.85" height="70" fill="#111"/></g>
<path d="M834.7,499C850,497 868,490 883,481.5V510.4C868,518 850,525 834,529.5Z" fill="none" stroke="#000" stroke-width="1.6"/>
<path d="M598.3,146V265.2Q598.5,270 601.5,271L610,273.5L612.9,275.3C620,276 628,277.5 635.8,280C644,282.5 650,285.5 654.2,289C657,291 658.5,292.5 659.7,293.7C663,296.5 667,298.5 672.5,299.2C682,300.5 695,300.5 712,299.6V294" class="w"/>
<path d="M601,267.5L610,271V274" class="kt"/>
<path d="M598.3,146Q598,136 606.9,132.2C625,133 645,136 660.6,138.3L666.8,142V145.7L682.6,148.1" class="k"/>
<path d="M682.6,146.5L684,148C693,151 700,155 703,158C708,164 711,169 712,175" class="k"/>
<path d="M685,150C694,153 701,157 704.5,161C708.5,166 710.5,170 710.5,175" class="kt"/>
<path d="M604,136C622,136.5 644,139.5 660.6,142L665,144.5" class="kt"/>
<path d="M598.3,146.9C604,150 610,152.5 616.7,154.2C625,157 633,160 641,162.8C648,165.5 655,168.5 660.6,171.3C668,174.5 673,176.5 677.7,177.4C686,178 695,178 702.2,177.4L712,175" class="k"/>
<path d="M616.7,154.2V276M659.6,171V289" class="k"/>
<path d="M651,149.3L666,146.5M653,152.5L668,149.5L670,153L664,155M659,156L670,153.5" class="k"/>
<path d="M660.6,172.5L671.5,176V183.5L663,182L660.6,178" class="w"/>
<path d="M703,175.3H711L712,176.3V186H703Z M707.5,175.3V186" class="w"/>
<path d="M703,196H711L712,197V216.6H703Z M707.5,196V216.6" class="w"/>
<path d="M703,256.3H711L712,257.3V274.7H703Z M707.5,256.3V274.7" class="w"/>
<path d="M703,285.4H711L712,286.4V299H703Z M707.5,285.4V299" class="w"/>
<path d="M703,188.3H696Q694.5,188.3 694.5,190.3V198.5Q694.5,200.5 696,200.5H703" class="w"/>
<path d="M696,190.3H703" class="kt"/>
<path d="M703,277H696Q694.5,277 694.5,279V288Q694.5,290 696,290H703" class="w"/>
<path d="M696,279H703" class="kt"/>
<path d="M603,261L606,258.8L610.2,262L607,264.3Z" fill="#000" stroke="#000" stroke-width="1"/>
<path d="M688.4,219V261H691.5L703,254L712,256.3V252L703,250L691.5,256V238L703,233.4L722.8,235.6L738.5,220.7L708.5,216.6L688.4,219.6Z" class="w"/>
<path d="M689.2,220V260.5" stroke="#000" stroke-width="2.6"/>
<ellipse cx="711.7" cy="225.6" rx="10.3" ry="5" class="k"/>
<path d="M691.5,238V222L703,220" class="kt"/>
<path d="M721.3,235.6L738.5,222.8L759.3,228.7C768,232 776,235 781.3,239.7C786,243 790,247 790.5,250.7Q790,254 785,256.2C780,258 772,259.8 766.7,259.8C760,259.8 755,259 752,257C745,253 735,246 722.8,238.5Z" class="w"/>
<ellipse cx="770.3" cy="250.2" rx="10" ry="5" class="k"/>
<path d="M779,256L789,250.5M777,254L787,248.5" class="kt"/>
<path d="M736,237L740,217Q749,213 758,217L762,237Q749,243 736,237Z" fill="#222" stroke="#000"/>
<path d="M738.6,221Q749,224 759.4,221" stroke="#aaa" stroke-width="0.8" fill="none"/>
<path d="M738.2,225Q749,228 759.8,225" stroke="#aaa" stroke-width="0.8" fill="none"/>
<path d="M737.8,229Q749,232 760.2,229" stroke="#aaa" stroke-width="0.8" fill="none"/>
<path d="M737.4,233Q749,236 760.6,233" stroke="#aaa" stroke-width="0.8" fill="none"/>
<path d="M782,59V184.4C800,186 850,195 884,223.6V92.6C870,78 830,62 794,56.7Q783,56 782,59Z" class="w"/>
<path d="M794,56.7C830,62 870,78 884,92.6L889.5,101.5V222.5L884,223.6" class="k"/>
<path d="M823.8,79V182.5H833.1V79L830,77.3H826.5Z M828.4,79V182.5 M823.8,79H828.4L833.1,77.3" class="w"/>
<path d="M858.9,93.5V197H866.8V93.5L863.5,91.8H861Z M862.8,93.5V197 M858.9,93.5H862.8L866.8,91.8" class="w"/>
<path d="M808,86.5Q816,87.5 821,92.5L822,97.5L848.3,98.5L848,95.5Q840,92.5 833,92.5L823.8,92.5Q815,87.5 808,89.0Z" class="w"/>
<path d="M822,95.0L848,96.0" class="kt"/>
<path d="M808,123Q816,124 821,129L822,134L848.3,135L848,132Q840,129 833,129L823.8,129Q815,124 808,125.5Z" class="w"/>
<path d="M822,131.5L848,132.5" class="kt"/>
<path d="M808,159.5Q816,160.5 821,165.5L822,170.5L848.3,171.5L848,168.5Q840,165.5 833,165.5L823.8,165.5Q815,160.5 808,162.0Z" class="w"/>
<path d="M822,168.0L848,169.0" class="kt"/>
<path d="M853,98.5L858.9,102.5V107.5L856,107.5Z" class="w"/>
<path d="M855,108.5L866.8,107.5Q874,110.5 878,117.5L876,118.5Q870,113.5 866.8,111.5L855,111.5Z" class="w"/>
<path d="M853,134.8L858.9,138.8V143.8L856,143.8Z" class="w"/>
<path d="M855,144.8L866.8,143.8Q874,146.8 878,153.8L876,154.8Q870,149.8 866.8,147.8L855,147.8Z" class="w"/>
<path d="M853,171.9L858.9,175.9V180.9L856,180.9Z" class="w"/>
<path d="M855,181.9L866.8,180.9Q874,183.9 878,190.9L876,191.9Q870,186.9 866.8,184.9L855,184.9Z" class="w"/>
<path d="M866,144L884,140V185L876,189L866,187Z" class="w"/>
<path d="M872,146V187M866,148L884,144" class="kt"/>
<path d="M765.8,107.6L771.7,101.7H790.4L791,103V136.8L775.2,140L765.8,136Z" class="w"/>
<path d="M775.2,103V140M765.8,107.6H775.2L790.4,101.7M768,106L772,103L776,104" class="k"/>
<path d="M702,119L705,130Q711,134.5 717,130L720.1,121Z" fill="#ddd" stroke="#000" stroke-width="1.4"/>
<path d="M703.25,121.5Q711,123.3 718.75,121.5" class="kt"/>
<path d="M704.0,124Q711,125.8 718.0,124" class="kt"/>
<path d="M704.75,126.5Q711,128.3 717.25,126.5" class="kt"/>
<path d="M705.5,129Q711,130.8 716.5,129" class="kt"/>
<path d="M689.7,111C689,108 690,107.6 692,106.5Q696,105.5 698,104.5Q702,102.9 705,102.3C708,101.7 712,101.7 712,101.7C720,102.5 730,104.5 737.7,106.4C746,108.5 752,111 757.6,113.4C762,115.5 767,117 769.3,118.1Q768.5,120.5 767,121.6C762,124 756,127 750.6,128.6C747,129.8 744,130 741.2,129.8C735,128 728,125 720.1,122.8C714,121 708,119.5 702.6,118.1C698,117 694,115.5 692,114.6Q689.8,113 689.7,111Z" class="w"/>
<ellipse cx="711.6" cy="110.5" rx="6" ry="2.3" class="k"/>
<ellipse cx="748" cy="119.6" rx="11" ry="4.4" fill="none" stroke="#000" stroke-width="1.9"/>
<path d="M758,126L767,121.6" class="kt"/>
<path d="M760,143L764,155Q770.5,159.5 777,155L781,143Z" fill="#ddd" stroke="#000" stroke-width="1.4"/>
<path d="M761.55,145.5Q770.5,147.3 779.45,145.5" class="kt"/>
<path d="M762.3,148Q770.5,149.8 778.7,148" class="kt"/>
<path d="M763.05,150.5Q770.5,152.3 777.95,150.5" class="kt"/>
<path d="M763.8,153Q770.5,154.8 777.2,153" class="kt"/>
<path d="M747,134.5Q748,131.5 750.6,131C760,128.5 770,125 776.3,124Q781,124.5 784.5,127.5L791.6,135.7Q790.5,138.5 788,139.2C780,141 775,142 769.3,142.7C764,144 760,145 755.3,146.2C752,147.5 748,148 745,148.3C741,148.6 739,147.5 738.9,145.5Q739.5,143 742,142.5L750,141.5Z" class="w"/>
<ellipse cx="771" cy="135" rx="6.4" ry="2.4" class="k"/>
<ellipse cx="744" cy="145.7" rx="2.2" ry="1.2" class="k"/>
<path d="M791.6,135.7V140L788,143.5L769,147" class="kt"/></g>
<g id="labels"><ellipse cx="292.3" cy="40.5" rx="24.8" ry="18" class="b"/><path transform="translate(287.10,32.40)" d="M0.8,2.8L5.6,0V19M0,19H10.4" class="bt"/><path d="M314.9,47.9L425.7,84" class="bl"/><ellipse cx="292.3" cy="118.3" rx="24.8" ry="18" class="b"/><path transform="translate(283.40,110.20)" d="M0,3.6L5,0H12.8L17.8,3.3V5.9L13.2,9.4H5.6L0.5,12.5V19.1H17.8" class="bt"/><path d="M316.3,122.8L433.3,144.6" class="bl"/><ellipse cx="292.3" cy="184.5" rx="24.8" ry="18" class="b"/><path transform="translate(283.55,176.40)" d="M0,3.3L4.8,0H12.5L17.5,3.6V6.1L13.5,9.7H8.9M13.5,9.7L17.5,13.2V16.3L12.5,19.3H4.8L0,15.5" class="bt"/><path d="M313.7,193.6L355.6,211.3" class="bl"/><ellipse cx="292.4" cy="482.6" rx="24.8" ry="18" class="b"/><path transform="translate(282.15,474.50)" d="M16,19.4V0L0,13.3H20.5" class="bt"/><path d="M284.5,465.5L256.7,405" class="bl"/><ellipse cx="292.6" cy="545" rx="24.8" ry="18" class="b"/><path transform="translate(283.65,536.90)" d="M17.9,0H0.5V8.5H13.6L17.9,11.8V16L13.8,19.2H4L0,16.3" class="bt"/><path d="M275.7,531.9L189,464.6" class="bl"/><ellipse cx="292.6" cy="634" rx="24.8" ry="18" class="b"/><path transform="translate(283.60,625.90)" d="M15.5,0H5L0.5,4.5V15L4.5,19.2H13.8L18,16V12.6L13.8,9.4H0.5" class="bt"/><path d="M304.1,618.1L357,544.7" class="bl"/><ellipse cx="292.5" cy="685.6" rx="24.8" ry="18" class="b"/><path transform="translate(283.60,677.50)" d="M0,0H17.8L4.1,19.2" class="bt"/><path d="M313.0,695.8L357,717.7" class="bl"/><ellipse cx="292.5" cy="779" rx="24.8" ry="18" class="b"/><path transform="translate(283.60,770.90)" d="M3.4,0H14.4L17.8,3.4V6.8L14.4,10.3H3.4L0,6.8V3.4ZM3.4,10.3L0,13V15.8L3.4,18.8H14.4L17.8,15.8V13L14.4,10.3" class="bt"/><path d="M317.0,781.6L535.6,805.2" class="bl"/><path d="M316.5,783.4L433.5,805" class="bl"/><path d="M313.7,788.3L376.5,815.7" class="bl"/><path d="M315.5,785.7L517,844" class="bl"/><path d="M306.4,793.9L351.6,842.4" class="bl"/><path d="M310.6,791.3L433.5,874.5" class="bl"/><ellipse cx="292.5" cy="880.4" rx="24.8" ry="18" class="b"/><path transform="translate(283.60,872.30)" d="M4.6,18.8H8.2L17.8,12.5V3.3L13.3,0H4.6L0,3.3V5.8L4.6,9.4H17.8" class="bt"/><path d="M313.0,890.5L389,928" class="bl"/><ellipse cx="592.4" cy="471.4" rx="24.8" ry="18" class="b"/><path transform="translate(575.95,463.30)" d="M0.8,2.8L5.6,0V19M0,19H10.4" class="bt"/><path transform="translate(593.15,463.30)" d="M4,0H11.7L15.7,4V15.3L11.7,19.3H4L0,15.3V4Z" class="bt"/><path d="M600.0,454.3L622,404.4" class="bl"/><ellipse cx="657" cy="510" rx="24.8" ry="18" class="b"/><path transform="translate(643.20,501.90)" d="M0.8,2.8L5.6,0V19M0,19H10.4" class="bt"/><path transform="translate(660.40,501.90)" d="M0.8,2.8L5.6,0V19M0,19H10.4" class="bt"/><path d="M662.9,492.5L687,420.7" class="bl"/><ellipse cx="733.8" cy="556.8" rx="24.8" ry="18" class="b"/><path transform="translate(716.30,548.70)" d="M0.8,2.8L5.6,0V19M0,19H10.4" class="bt"/><path transform="translate(733.50,548.70)" d="M0,3.6L5,0H12.8L17.8,3.3V5.9L13.2,9.4H5.6L0.5,12.5V19.1H17.8" class="bt"/><path d="M741.9,539.8L768.5,484" class="bl"/><ellipse cx="835.5" cy="586" rx="24.8" ry="18" class="b"/><path transform="translate(818.15,577.90)" d="M0.8,2.8L5.6,0V19M0,19H10.4" class="bt"/><path transform="translate(835.35,577.90)" d="M0,3.3L4.8,0H12.5L17.5,3.6V6.1L13.5,9.7H8.9M13.5,9.7L17.5,13.2V16.3L12.5,19.3H4.8L0,15.5" class="bt"/><path d="M842.9,568.8L868,510" class="bl"/><ellipse cx="651" cy="93.4" rx="24.8" ry="18" class="b"/><path transform="translate(633.25,85.30)" d="M0.8,2.8L5.6,0V19M0,19H10.4" class="bt"/><path transform="translate(648.25,85.30)" d="M16,19.4V0L0,13.3H20.5" class="bt"/><path d="M641.6,110.0L621.5,145.4" class="bl"/><ellipse cx="732.3" cy="58" rx="24.8" ry="18" class="b"/><path transform="translate(714.75,49.90)" d="M0.8,2.8L5.6,0V19M0,19H10.4" class="bt"/><path transform="translate(731.95,49.90)" d="M17.9,0H0.5V8.5H13.6L17.9,11.8V16L13.8,19.2H4L0,16.3" class="bt"/><path d="M723.3,74.8L703,112.5" class="bl"/><ellipse cx="822" cy="20" rx="24.8" ry="18" class="b"/><path transform="translate(804.40,11.90)" d="M0.8,2.8L5.6,0V19M0,19H10.4" class="bt"/><path transform="translate(821.60,11.90)" d="M15.5,0H5L0.5,4.5V15L4.5,19.2H13.8L18,16V12.6L13.8,9.4H0.5" class="bt"/><path d="M813.5,36.9L794.7,74.4" class="bl"/><ellipse cx="762" cy="311" rx="24.8" ry="18" class="b"/><path transform="translate(744.50,302.90)" d="M0.8,2.8L5.6,0V19M0,19H10.4" class="bt"/><path transform="translate(761.70,302.90)" d="M0,0H17.8L4.1,19.2" class="bt"/><path d="M750.2,295.2L703,232" class="bl"/><ellipse cx="826" cy="281.3" rx="24.8" ry="18" class="b"/><path transform="translate(808.50,273.20)" d="M0.8,2.8L5.6,0V19M0,19H10.4" class="bt"/><path transform="translate(825.70,273.20)" d="M3.4,0H14.4L17.8,3.4V6.8L14.4,10.3H3.4L0,6.8V3.4ZM3.4,10.3L0,13V15.8L3.4,18.8H14.4L17.8,15.8V13L14.4,10.3" class="bt"/><path d="M809.5,267.9L774,239" class="bl"/><ellipse cx="881.8" cy="251.5" rx="24.8" ry="18" class="b"/><path transform="translate(864.30,243.40)" d="M0.8,2.8L5.6,0V19M0,19H10.4" class="bt"/><path transform="translate(881.50,243.40)" d="M4.6,18.8H8.2L17.8,12.5V3.3L13.3,0H4.6L0,3.3V5.8L4.6,9.4H17.8" class="bt"/><path d="M866.5,237.3L761.8,140.2" class="bl"/></g>
<g id="l20">
<path d="M471,452.9L528.4,435.2" fill="none" stroke="#00a0e4" stroke-width="2.3"/>
<ellipse cx="547.85" cy="447.1" rx="22.4" ry="20.6" fill="none" stroke="#00a0e4" stroke-width="2.5"/>
<text x="549" y="456" text-anchor="middle" font-family="&quot;Liberation Sans&quot;, sans-serif" font-weight="bold" font-size="23.5" fill="#00a0e4">20</text>
</g>
</svg>
</body></html>
